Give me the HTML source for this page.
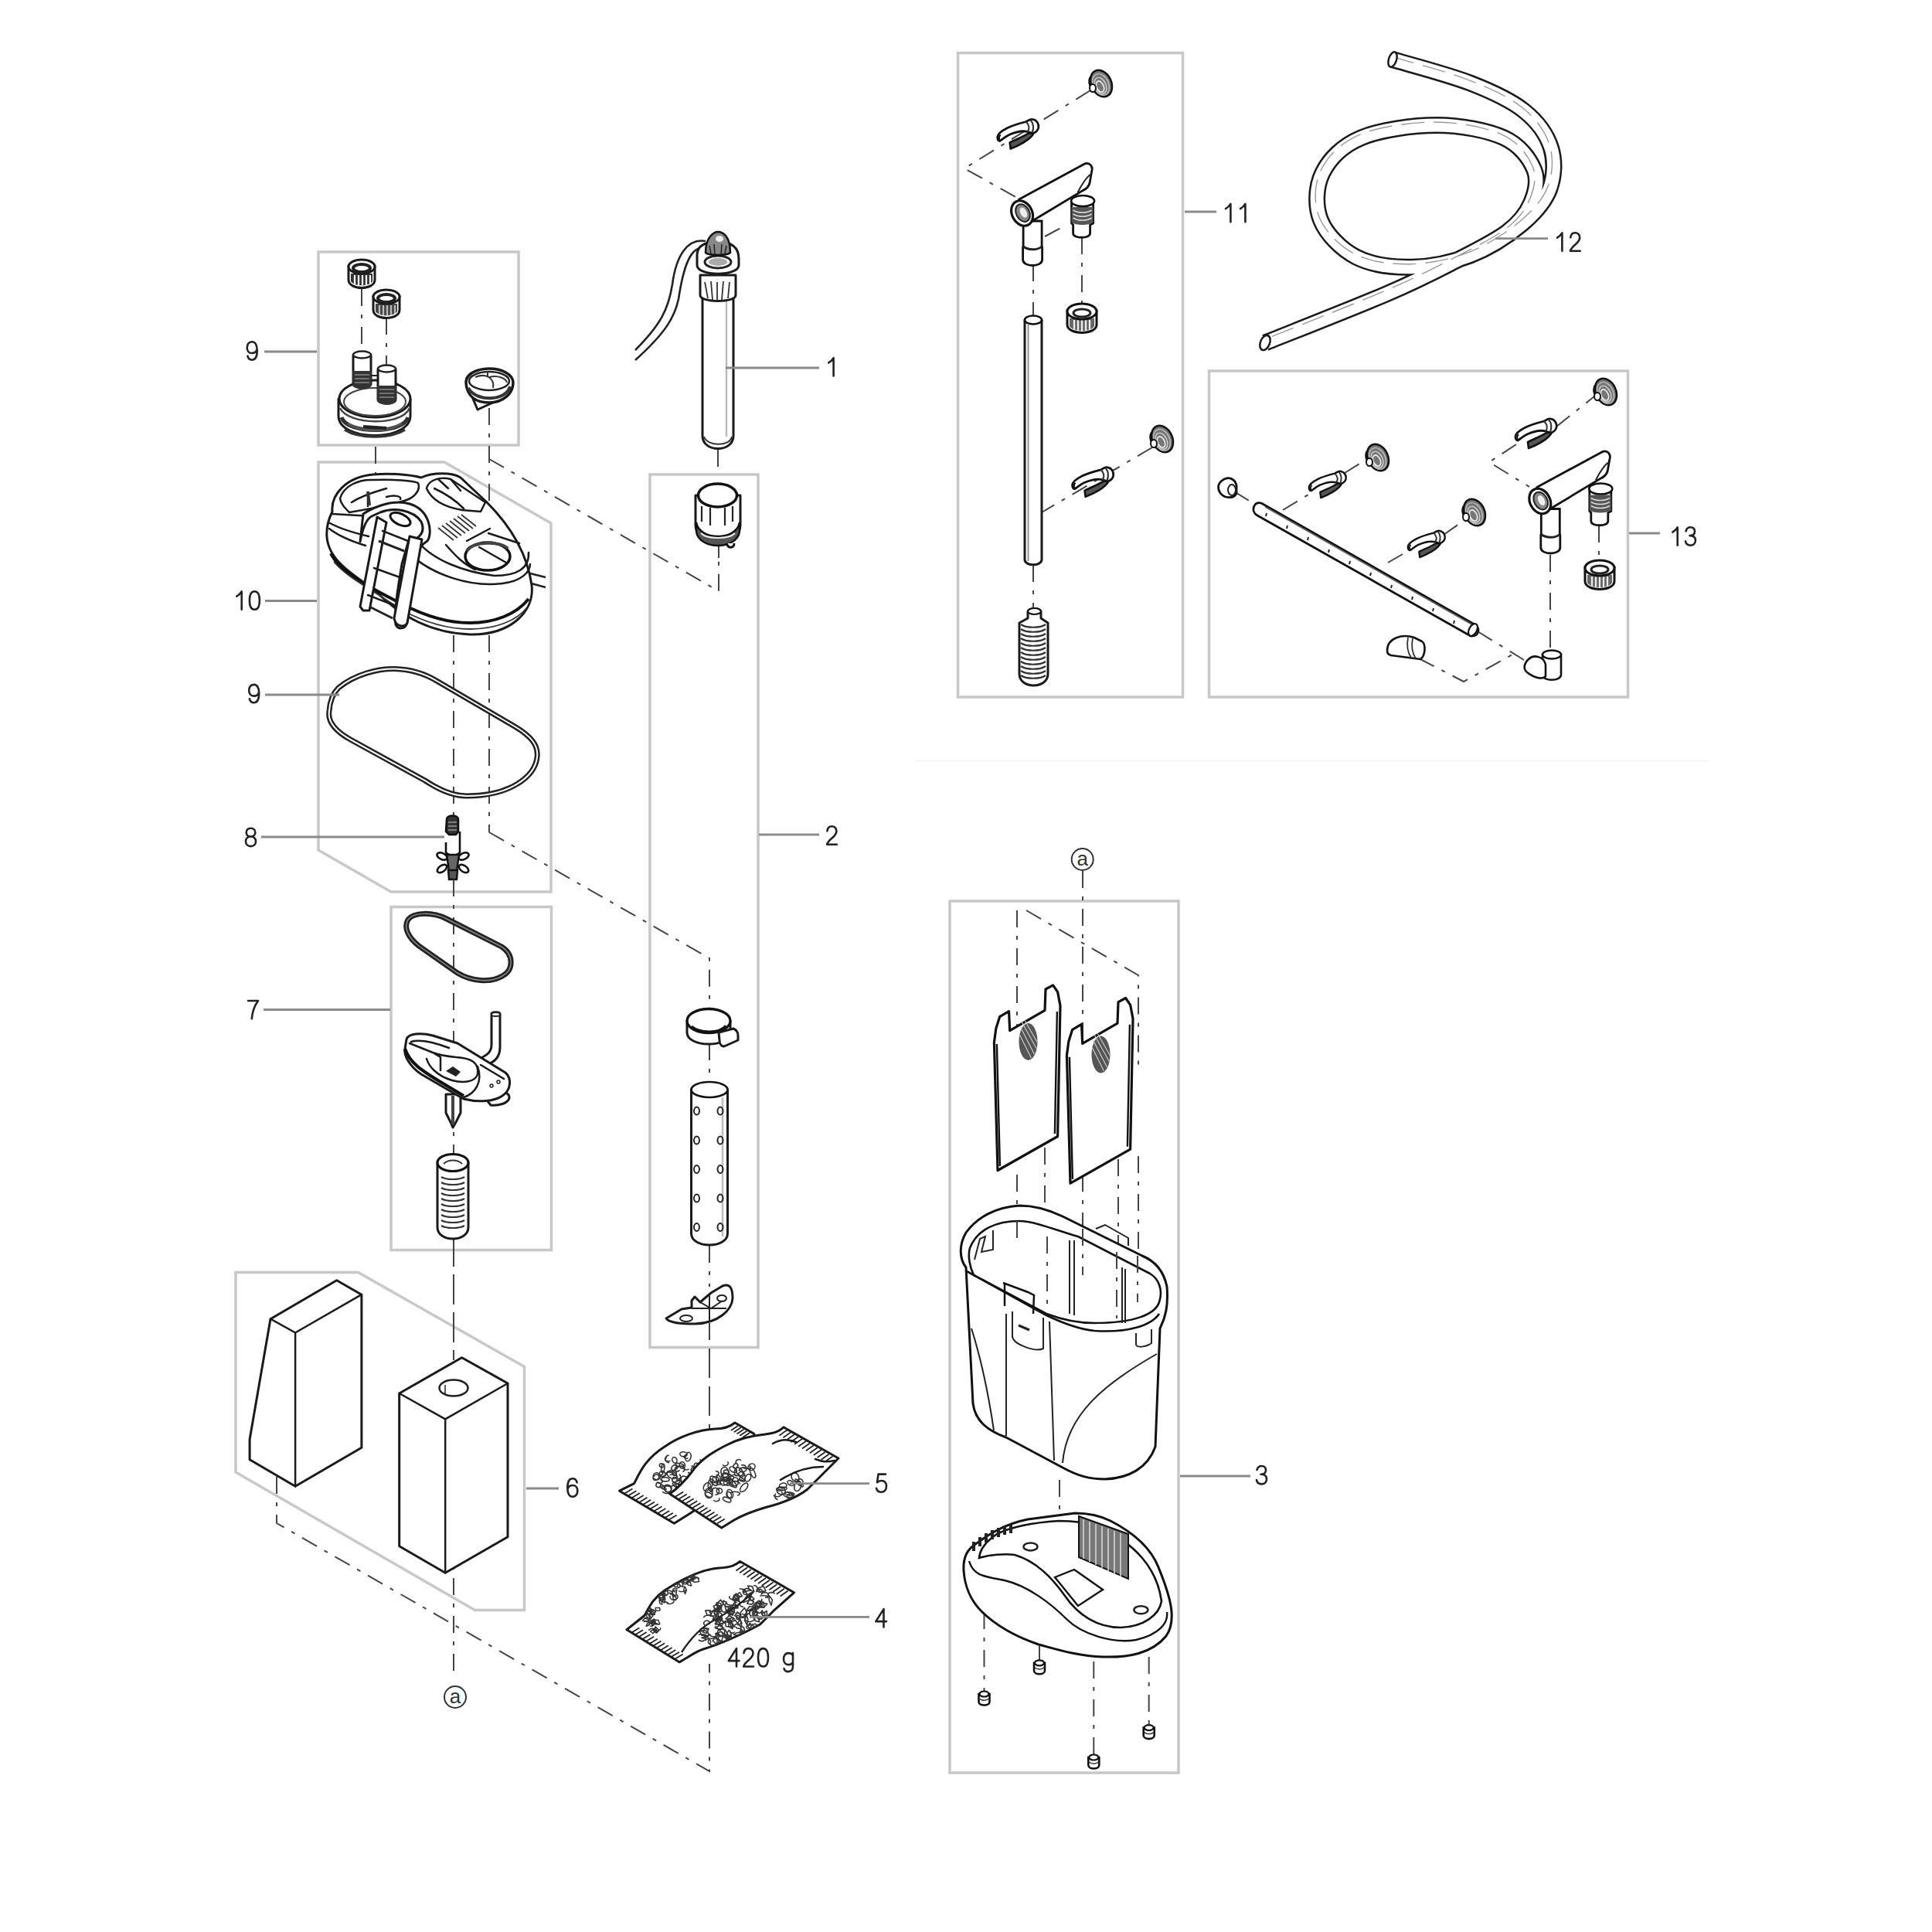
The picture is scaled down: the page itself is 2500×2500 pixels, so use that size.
<!DOCTYPE html>
<html><head><meta charset="utf-8">
<style>
html,body{margin:0;padding:0;background:#fff;width:2500px;height:2500px;overflow:hidden}
svg{display:block}
.bx{fill:none;stroke:#c8c8c8;stroke-width:3.5}
.ld{stroke:#8a8a8a;stroke-width:2.8;fill:none}
.lb{font-family:"Liberation Sans",sans-serif;font-size:32px;fill:#333}
.dd{stroke:#444;stroke-width:2;fill:none;stroke-dasharray:22 11 5 11}
.pt{fill:#fff;stroke:#1a1a1a;stroke-width:3;stroke-linejoin:round;stroke-linecap:round}
.pn{fill:none;stroke:#1a1a1a;stroke-width:2.5;stroke-linejoin:round;stroke-linecap:round}
</style></head>
<body>
<svg width="2500" height="2500" viewBox="0 0 2500 2500">

<defs>
<clipPath id="clip4"><path d="M811,2108.7 L879,2150.8 C890,2145 900,2137 910,2134 C940,2125 965,2112 983.5,2102 L1000.7,2084.7 L1027.5,2060.8 L957.6,2020.5 C952,2025 947,2028 930,2029 C905,2031 880,2045 860,2058 C845,2068 840,2080 834,2090.5 Z"/></clipPath>
<g id="cup">
<ellipse cx="0" cy="0" rx="13" ry="18" transform="rotate(-25)" fill="#777" stroke="#111" stroke-width="2.5"/>
<ellipse cx="-1" cy="1" rx="10" ry="14.5" transform="rotate(-25)" fill="none" stroke="#ccc" stroke-width="1.2"/>
<ellipse cx="-2" cy="2" rx="7" ry="11" transform="rotate(-25)" fill="none" stroke="#ddd" stroke-width="1.2"/>
<ellipse cx="-3" cy="3" rx="4.5" ry="7.5" transform="rotate(-25)" fill="none" stroke="#eee" stroke-width="1.6"/>
<path d="M-14,-8 C-16,-4 -16,2 -12,6" fill="none" stroke="#111" stroke-width="3"/>
<ellipse cx="-11" cy="6" rx="4" ry="5" fill="#fff" stroke="#111" stroke-width="2"/>
</g>
<g id="clip">
<path d="M17,31 L18,39 C28,35 38,30 44,24 C47,21 48,19 47,19 L41,19 C35,23 25,27 17,31 Z" fill="#555" stroke="#111" stroke-width="2.6" stroke-linejoin="round"/>
<path d="M1,24 C1,20 6,16 14,12 C22,8 30,6 38,4 C41,2 44,0 47,1 C52,2 55,7 54,12 C53,16 50,18 47,19 L40,17 C33,15 25,17 16,21 C10,24 6,28 4,29 C2,29 1,27 1,24 Z" fill="#fff" stroke="#111" stroke-width="2.8" stroke-linejoin="round"/>
<path d="M38,4 C42,8 43,13 40,17 M44,2 C48,6 48,13 46,18" fill="none" stroke="#333" stroke-width="2.2"/>
<path d="M5,21 C3,23 3,26 4,28" fill="none" stroke="#111" stroke-width="2"/>
</g>
<g id="nut">
<path d="M-19,-6 V12 C-19,26 19,26 19,12 V-6 Z" fill="#fff" stroke="#111" stroke-width="3"/>
<path d="M-16,4 V14 C-12,22 12,22 16,14 V4 Z" fill="#666"/>
<path d="M-10,6 V19 M-5,6 V20 M0,6 V20 M5,6 V20 M10,6 V19" stroke="#eee" stroke-width="2.2"/>
<ellipse cx="0" cy="-5" rx="19" ry="10" fill="#fff" stroke="#111" stroke-width="3"/>
<ellipse cx="0" cy="-3" rx="11" ry="5" fill="none" stroke="#222" stroke-width="3"/>
</g>
<g id="elbow">
<!-- right leg -->
<path d="M64,-16 V13 L66,15 V26 C66,33 88,33 88,26 V15 L92,13 V-16 Z" fill="#fff" stroke="#111" stroke-width="2.8"/>
<path d="M64,-8 V12 C70,16 86,16 92,12 V-8 Z" fill="#555"/>
<path d="M66,-4 C72,0 84,0 90,-4 M66,1 C72,5 84,5 90,1 M66,6 C72,10 84,10 90,6" fill="none" stroke="#ddd" stroke-width="1.6"/>
<ellipse cx="78.5" cy="-16" rx="15" ry="7" fill="#fff" stroke="#111" stroke-width="2.6"/>
<!-- left leg -->
<path d="M1.5,10 V42 L1,44 V60 C1,70 26,70 26,60 V44 L25.5,42 V10 Z" fill="#fff" stroke="#111" stroke-width="2.8"/>
<path d="M1.5,43 C8,48 20,48 25.5,43" fill="none" stroke="#222" stroke-width="3"/>
<!-- pipe -->
<path d="M-4,-18 L80,-63.6 C88,-67 92,-60 90,-54 L87.4,-39 C86,-34 82,-31 78.4,-29.4 L13,10 Z" fill="#fff" stroke="#111" stroke-width="2.8" stroke-linejoin="round"/>
<path d="M72,-27 C76,-35 82,-45 88,-50" fill="none" stroke="#222" stroke-width="2"/>
<ellipse cx="0" cy="0" rx="13" ry="17" transform="rotate(-28)" fill="#fff" stroke="#111" stroke-width="3.2"/>
<ellipse cx="1" cy="0" rx="8.5" ry="12" transform="rotate(-28)" fill="#888" stroke="#222" stroke-width="2"/>
<ellipse cx="2" cy="0" rx="4" ry="7" transform="rotate(-28)" fill="#eee"/>
</g>
</defs>
<line x1="1183" y1="984.6" x2="2210" y2="984.6" stroke="#f5f5f5" stroke-width="2"/>
<!-- BOXES -->
<g id="boxes">
<rect class="bx" x="412" y="326" width="259" height="250"/>
<polygon class="bx" points="412,598 575,598 713,677 713,1154 506,1154 412,1100"/>
<rect class="bx" x="506" y="1173.5" width="207.5" height="444"/>
<polygon class="bx" points="305,1646.5 463.5,1646.5 678.5,1768.5 678.5,2083.5 614.5,2083.5 305,1905"/>
<rect class="bx" x="841" y="614" width="140" height="1129.5"/>
<rect class="bx" x="1239.5" y="68.5" width="291" height="833.5"/>
<rect class="bx" x="1564.5" y="480" width="542" height="422"/>
<rect class="bx" x="1229" y="1166" width="296" height="1128"/>
</g>

<!-- PART A: box 9 contents -->
<g id="partA">
<!-- dash lines -->
<path class="dd" d="M468,374 V456"/>
<path class="dd" d="M500,411 V474"/>
<!-- nut 1 -->
<g transform="translate(468,354)">
<path class="pt" d="M-17,-10 V8 C-17,22 17,22 17,8 V-10 Z" fill="#fff"/>
<path d="M-14,0 V10 C-10,17 10,17 14,10 V0 Z" fill="#333"/>
<path d="M-9,2 V14 M-4,2 V15 M1,2 V15 M6,2 V15 M11,2 V13" stroke="#fff" stroke-width="2.2"/>
<ellipse class="pt" cx="0" cy="-9" rx="17" ry="9" stroke-width="3.5"/>
<ellipse cx="0" cy="-7" rx="11" ry="5" fill="none" stroke="#222" stroke-width="4"/>
</g>
<!-- nut 2 -->
<g transform="translate(500,393)">
<path class="pt" d="M-17,-10 V8 C-17,22 17,22 17,8 V-10 Z" fill="#fff"/>
<path d="M-14,0 V10 C-10,17 10,17 14,10 V0 Z" fill="#444"/>
<path d="M-9,2 V14 M-4,2 V15 M1,2 V15 M6,2 V15 M11,2 V13" stroke="#bbb" stroke-width="2.2"/>
<ellipse class="pt" cx="0" cy="-9" rx="17" ry="9" stroke-width="3.5"/>
<ellipse cx="0" cy="-7" rx="11" ry="5" fill="none" stroke="#222" stroke-width="4"/>
</g>
<!-- lid -->
<g>
<path class="pt" d="M438,516 V538 C438,572 531,572 531,538 V516 Z"/>
<path d="M442,540 C448,562 522,562 528,540" fill="none" stroke="#333" stroke-width="5"/>
<path d="M450,548 C470,560 500,560 520,548" fill="none" stroke="#555" stroke-width="3"/>
<path d="M440,528 C450,550 520,552 530,528" fill="none" stroke="#444" stroke-width="2.5"/>
<path d="M446,556 C465,568 505,568 524,556" fill="none" stroke="#333" stroke-width="3.5"/>
<path d="M470,552 L500,554" stroke="#222" stroke-width="4"/>
<ellipse class="pt" cx="485" cy="516" rx="46" ry="24"/>
<ellipse cx="485" cy="520" rx="40" ry="18" fill="none" stroke="#444" stroke-width="2"/>
<path class="pt" d="M457,460 V497 C457,503 480,503 480,497 V460 Z"/>
<path d="M456,480 V497 C458,506 479,506 481,497 V480 Z" fill="#333"/>
<path d="M459,485 H478 M459,490 H478 M459,495 H478" stroke="#888" stroke-width="1.5"/>
<ellipse cx="468.5" cy="459" rx="11.5" ry="4.5" fill="#fff" stroke="#222" stroke-width="2.5"/>
<path class="pt" d="M489,478 V517 C489,524 512,524 512,517 V478 Z"/>
<path d="M488,499 V517 C490,526 511,526 513,517 V499 Z" fill="#333"/>
<path d="M491,504 H510 M491,509 H510 M491,514 H510" stroke="#888" stroke-width="1.5"/>
<ellipse cx="500.5" cy="477" rx="11.5" ry="4.5" fill="#fff" stroke="#222" stroke-width="2.5"/>
<path d="M480,486 H489" stroke="#222" stroke-width="2"/>
</g>
<!-- small cap -->
<g>
<path class="pt" d="M612,516 L618,530 L640,520 Z"/>
<path d="M603,495 C603,480 625,477 633,477 C650,477 664,485 664,495 C664,510 650,521 633,521 C615,521 604,512 603,495 Z" fill="#fff" stroke="#1a1a1a" stroke-width="3.5"/>
<path d="M606,502 C615,520 655,520 660,500" fill="none" stroke="#333" stroke-width="4"/>
<ellipse cx="633" cy="493" rx="26" ry="12" fill="none" stroke="#222" stroke-width="2.5"/>
<path d="M615,488 C630,482 640,490 638,502 M631,480 V488 M633,488 C645,485 655,490 656,495" fill="none" stroke="#333" stroke-width="2"/>
</g>
</g>

<!-- PART B: pump head 10 -->
<g id="partB">
<path class="dd" d="M486,578 V640"/>
<path class="dd" d="M633,528 V720"/>
<path class="dd" d="M633,594 L930,765 L930,690"/>
<!-- cable stub -->
<path d="M682,741 L706,747 M684,754 L706,760" stroke="#222" stroke-width="2.5"/>
<!-- silhouette -->
<path class="pt" stroke-width="3.2" d="M430,662 C428,640 448,617 483,614 C505,612 530,614 545,618 C560,611 585,611 596,618 L630,650 C660,680 682,715 688,757 C692,792 660,822 608,821 C560,819 520,800 483,762 C450,740 425,722 423,695 C422,683 425,672 430,662 Z"/>
<!-- gasket band bottom -->
<path d="M428,716 C440,740 470,756 521,782 C550,797 580,806 608,806 C640,806 668,795 684,775" fill="none" stroke="#111" stroke-width="4"/>
<path d="M432,727 C450,748 480,762 521,790 C555,808 585,814 608,814 C640,814 668,804 682,786" fill="none" stroke="#333" stroke-width="1.8"/>
<!-- upper body top face line -->
<path class="pn" d="M430,665 L481,668"/>
<path class="pn" d="M427,677 C440,684 460,690 477,694"/>
<path class="pn" d="M426,684 C440,695 460,702 473,706"/>
<path class="pn" d="M540,700 C560,725 600,740 640,745 C670,745 685,735 684,715"/>
<path class="pn" d="M528,715 C560,745 610,760 650,755 C675,752 686,740 686,730"/>
<!-- left cup -->
<path class="pn" stroke-width="3" d="M440,645 C445,628 465,620 483,621 C510,620 535,622 541,625 C545,635 535,645 523,648 C500,655 470,660 452,663 C446,657 441,652 440,645 Z"/>
<path class="pn" d="M455,650 C470,640 490,635 500,632 M476,637 V655 M500,643 C510,640 520,642 518,646"/>
<path d="M476,636 L478,654" stroke="#333" stroke-width="4"/>
<!-- latch top right -->
<path class="pn" stroke-width="3" d="M552,632 C555,620 570,617 583,620 L628,650 L622,662 L598,660 C580,657 560,650 552,632 Z"/>
<path class="pn" d="M562,632 C575,638 590,648 600,658 M567,620 L580,632 M583,620 L596,635"/>
<!-- vent slots -->
<path d="M567,683 L587,699 M572,680 L592,696 M577,677 L597,693 M582,674 L602,690 M587,671 L607,687 M592,668 L612,684 M597,666 L616,681" stroke="#333" stroke-width="1.8"/>
<path class="pn" d="M604,700 L634,684 M632,690 L672,703"/>
<path class="pn" d="M577,705 C590,720 600,730 615,737"/>
<!-- hole -->
<ellipse cx="631" cy="720" rx="29" ry="18" fill="#fff" stroke="#111" stroke-width="3.5"/>
<path d="M604,713 C610,700 650,700 657,710" fill="none" stroke="#444" stroke-width="4"/>
<path class="pn" d="M620,708 L655,728"/>
<!-- strap/handle -->
<path class="pt" stroke-width="3" d="M466,701 C470,680 475,671 481,668 L492,663 C510,656 535,660 545,675 C552,690 540,698 528,702 L520,730 C515,760 510,790 512,808 C514,815 525,815 527,805 L531,740 C535,715 545,705 553,700 C560,690 557,660 530,652 C510,646 485,655 470,665 L466,701 Z"/>
<path class="pt" stroke-width="3" d="M488,669 L466,785 L470,790 L478,790 L500,676 Z"/>
<path class="pt" stroke-width="3" d="M530,694 L510,800 C512,812 524,812 527,806 L546,698 Z"/>
<path class="pn" d="M495,687 L528,700 M484,735 L520,748 M476,770 L512,784"/>
<path d="M490,700 L523,713 M478,785 L508,800" stroke="#222" stroke-width="3"/>
<ellipse cx="518" cy="672" rx="14" ry="7" transform="rotate(25 518 672)" fill="none" stroke="#111" stroke-width="3"/>
</g>

<!-- PART B2: ring, impeller -->
<g id="partB2">
<path class="dd" d="M587,822 V1056"/>
<path class="dd" d="M633,822 V1077"/>
<path d="M438,890 C460,872 490,865 511,865.5 C530,866 550,872 565,881 L666,940 C688,953 697,965 695,980 C692,1005 660,1030 604,1030 C585,1030 565,1020 550,1010 L453.5,957 C432,945 424,932 426,920 C427,905 432,896 438,890 Z" fill="none" stroke="#222" stroke-width="7"/>
<path d="M438,890 C460,872 490,865 511,865.5 C530,866 550,872 565,881 L666,940 C688,953 697,965 695,980 C692,1005 660,1030 604,1030 C585,1030 565,1020 550,1010 L453.5,957 C432,945 424,932 426,920 C427,905 432,896 438,890 Z" fill="none" stroke="#fff" stroke-width="2"/>
<!-- impeller -->
<path d="M578,1060 C578,1054 593,1054 593,1060 V1076 L590,1080 H581 L577,1076 Z" fill="#333" stroke="#111" stroke-width="2.5"/>
<path d="M580,1064 H591 M580,1069 H591 M580,1074 H591" stroke="#999" stroke-width="1.5"/>
<path d="M577,1090 V1103 C580,1108 592,1108 595,1103 V1076" fill="none" stroke="#111" stroke-width="2.6"/>
<g fill="#fff" stroke="#111" stroke-width="2.6">
<ellipse cx="572" cy="1108" rx="7" ry="4" transform="rotate(25 572 1108)"/>
<ellipse cx="600" cy="1108" rx="7" ry="4" transform="rotate(-25 600 1108)"/>
<ellipse cx="572" cy="1124" rx="7" ry="4" transform="rotate(-35 572 1124)"/>
<ellipse cx="600" cy="1124" rx="7" ry="4" transform="rotate(35 600 1124)"/>
</g>
<path d="M578,1106 L581,1127 H591 L594,1106 Z" fill="#666" stroke="#111" stroke-width="2.4"/>
<path d="M580,1126 H592 L591,1138 H581 Z" fill="#555" stroke="#111" stroke-width="2.4"/>
</g>
<!-- PART C: heater -->
<g id="partC">
<path class="dd" d="M929,582 V615"/>
<path d="M913,312 C890,308 875,330 870,368 C865,400 855,420 822,453" fill="none" stroke="#222" stroke-width="2.6"/>
<path d="M909,321 C895,320 885,340 878,387 C873,410 862,430 822,466" fill="none" stroke="#222" stroke-width="2.6"/>
<path class="pt" stroke-width="2.5" d="M909,386 V564 C909,586 949,586 949,564 V386 Z"/>
<path d="M940,390 V565" stroke="#bbb" stroke-width="2.5"/>
<path d="M911,565 C915,578 945,578 947,565" fill="none" stroke="#333" stroke-width="2"/>
<path class="pt" d="M906,356 V382 C906,392 952,392 952,382 V356 Z"/>
<path d="M912,365 L916,386 M920,364 L922,388 M928,365 L928,389 M936,364 L934,388 M944,365 L942,386" stroke="#333" stroke-width="1.8"/>
<path class="pt" d="M902,330 C902,318 912,313 929,313 C946,313 956,320 956,335 V343 C956,358 902,358 902,343 Z"/>
<ellipse cx="929" cy="339" rx="17" ry="8" fill="#fff" stroke="#222" stroke-width="3"/>
<ellipse cx="929" cy="339" rx="12" ry="5" fill="#aaa"/>
<path d="M913,327 C913,305 925,300 929,300 C935,300 945,305 945,327 C940,331 918,331 913,327 Z" fill="#888" stroke="#111" stroke-width="2.5"/><path d="M918,318 L920,328 M924,316 L925,329 M934,316 L933,329 M940,318 L938,328" stroke="#222" stroke-width="1.5"/>
<ellipse cx="931" cy="309" rx="5" ry="4" fill="#eee"/>
</g>

<!-- PART D: box 2 contents -->
<g id="partD">
<path class="dd" d="M930,700 V730"/>
<path class="dd" d="M633,1077 L918,1240 V1305"/>
<path class="dd" d="M918,1350 V1400"/>
<path class="dd" d="M918,1612 V1665"/>
<path class="dd" d="M918,1712 V1860"/>
<!-- holder nut -->
<g>
<path class="pt" d="M900,641 V680 C900,705 958,705 958,680 V641 Z"/>
<path d="M901,676 C905,700 953,700 957,676 L957,688 C953,712 905,712 901,688 Z" fill="#555" stroke="#111" stroke-width="2.5"/>
<path d="M907,690 C915,698 943,698 951,690" stroke="#eee" stroke-width="2" fill="none"/>
<path d="M908,655 V675 M919,657 V680 M938,657 V680 M948,655 V675" stroke="#222" stroke-width="2.2"/>
<ellipse cx="928.5" cy="641" rx="25" ry="15" fill="#fff" stroke="#111" stroke-width="3.5"/>
<path d="M940,703 C942,710 950,710 950,703" stroke="#111" stroke-width="3" fill="#fff"/>
</g>
<!-- clip ring -->
<g>
<path class="pt" d="M889,1321 V1336 C889,1356 945,1356 945,1336 V1321 Z"/>
<ellipse cx="917" cy="1321" rx="28" ry="15.5" fill="#fff" stroke="#111" stroke-width="3.3"/>
<path d="M895,1328 C905,1336 930,1338 939,1327" fill="none" stroke="#111" stroke-width="2.5"/>
<path class="pt" d="M930,1336 L949,1331 C954,1333 955,1336 955,1340 V1346 L937,1354 C933,1354 931,1350 931,1346 Z"/>
</g>
<!-- perforated tube -->
<g>
<path class="pt" stroke-width="2.6" d="M894.5,1410 V1596 C894.5,1616 941.5,1616 941.5,1596 V1410 Z"/>
<ellipse cx="918" cy="1410" rx="23.5" ry="10" fill="#fff" stroke="#111" stroke-width="2.6"/>
<path d="M935,1420 V1600" stroke="#bbb" stroke-width="2.5"/>
<g fill="none" stroke="#222" stroke-width="2">
<ellipse cx="901.5" cy="1437.5" rx="3.5" ry="5"/><ellipse cx="932" cy="1437.5" rx="3.5" ry="5"/>
<ellipse cx="901.5" cy="1475.5" rx="3.5" ry="5"/><ellipse cx="932" cy="1475.5" rx="3.5" ry="5"/>
<ellipse cx="901.5" cy="1513" rx="3.5" ry="5"/><ellipse cx="932" cy="1513" rx="3.5" ry="5"/>
<ellipse cx="901.5" cy="1550.5" rx="3.5" ry="5"/><ellipse cx="932" cy="1550.5" rx="3.5" ry="5"/>
<ellipse cx="901.5" cy="1588" rx="3.5" ry="5"/><ellipse cx="932" cy="1588" rx="3.5" ry="5"/>
</g>
</g>
<!-- bracket -->
<g>
<path class="pt" stroke-width="2.6" d="M862,1706 L882,1694 L895,1692 V1683 L899,1678 L906,1685 L920,1673 L935,1664 C945,1660 948,1668 948,1680 C947,1695 930,1712 900,1713 C880,1713 866,1712 862,1706 Z"/>
<path d="M895,1693 H940 M918,1675 V1710 M906,1685 L920,1693 L935,1683" fill="none" stroke="#222" stroke-width="2"/>
<ellipse cx="888" cy="1706" rx="8" ry="4" fill="none" stroke="#222" stroke-width="2"/>
<ellipse cx="934" cy="1680" rx="6" ry="4" fill="none" stroke="#222" stroke-width="2"/>
</g>
</g>

<!-- PART E: box 7 contents -->
<g id="partE">
<path class="dd" d="M587,1138 V1495"/>
<path class="dd" d="M587,1600 V1760"/>
<!-- small ring -->
<path d="M528,1190 C535,1180 560,1180 578,1189 L649,1225 C665,1235 665,1255 650,1263 C635,1272 610,1270 592,1259 L542,1224 C528,1213 522,1200 528,1190 Z" fill="none" stroke="#222" stroke-width="7"/>
<path d="M528,1190 C535,1180 560,1180 578,1189 L649,1225 C665,1235 665,1255 650,1263 C635,1272 610,1270 592,1259 L542,1224 C528,1213 522,1200 528,1190 Z" fill="none" stroke="#888" stroke-width="1.5"/>
<!-- impeller cover -->
<path class="pt" d="M636,1312 C636,1309 647,1309 647,1312 V1355 C647,1368 640,1375 628,1378 L620,1370 C632,1365 636,1360 636,1352 Z"/>
<ellipse cx="641.5" cy="1312.5" rx="5.5" ry="2.5" fill="#fff" stroke="#222" stroke-width="2"/>
<path class="pt" d="M577,1416 V1440 L583,1452 L586,1459 L590,1452 L596,1440 V1416 Z"/>
<path d="M586,1418 V1455" stroke="#444" stroke-width="4"/>
<path class="pt" d="M627,1420 C640,1412 660,1410 659,1421 C657,1428 645,1431 635,1430 Z"/>
<path class="pt" d="M526,1345 C528,1337 545,1336 560,1340 L592,1350 L654,1388 C662,1395 662,1410 650,1418 C640,1425 620,1427 600,1422 L545,1390 C530,1380 522,1365 524,1357 Z"/>
<path d="M524,1357 C530,1375 545,1385 570,1400 L600,1418" fill="none" stroke="#111" stroke-width="4"/>
<path class="pn" d="M530,1350 L560,1362 L570,1368 V1385 M532,1348 C545,1344 565,1350 581,1356 M560,1362 C570,1366 580,1367 590,1368 C610,1369 620,1375 618,1390 C615,1400 600,1402 585,1398 C565,1392 555,1380 552,1370"/>
<path class="pn" d="M618,1380 C625,1400 615,1415 600,1420 M622,1378 L652,1396"/>
<path d="M577,1386 L586,1380 L596,1387 L590,1393 Z" fill="#222"/>
<circle cx="636" cy="1405" r="2" fill="none" stroke="#222" stroke-width="1.5"/><circle cx="645" cy="1400" r="2" fill="none" stroke="#222" stroke-width="1.5"/>
<!-- strainer -->
<path class="pt" d="M566,1505 V1588 C566,1608 606,1608 606,1588 V1505 Z"/>
<path d="M571,1523 C578,1527 594,1527 601,1523" fill="none" stroke="#333" stroke-width="2.2"/><path d="M571,1530 C578,1534 594,1534 601,1530" fill="none" stroke="#333" stroke-width="2.2"/><path d="M571,1537 C578,1541 594,1541 601,1537" fill="none" stroke="#333" stroke-width="2.2"/><path d="M571,1544 C578,1548 594,1548 601,1544" fill="none" stroke="#333" stroke-width="2.2"/><path d="M571,1551 C578,1555 594,1555 601,1551" fill="none" stroke="#333" stroke-width="2.2"/><path d="M571,1558 C578,1562 594,1562 601,1558" fill="none" stroke="#333" stroke-width="2.2"/><path d="M571,1565 C578,1569 594,1569 601,1565" fill="none" stroke="#333" stroke-width="2.2"/><path d="M571,1572 C578,1576 594,1576 601,1572" fill="none" stroke="#333" stroke-width="2.2"/><path d="M571,1579 C578,1583 594,1583 601,1579" fill="none" stroke="#333" stroke-width="2.2"/><path d="M571,1586 C578,1590 594,1590 601,1586" fill="none" stroke="#333" stroke-width="2.2"/>
<ellipse cx="586" cy="1504.5" rx="20" ry="11" fill="#fff" stroke="#111" stroke-width="3.2"/>
<path d="M574,1506 C580,1500 592,1500 598,1506" fill="none" stroke="#333" stroke-width="2"/>
</g>

<!-- PART F: foam blocks -->
<g id="partF">
<path class="dd" d="M587,1617 V1756"/>
<path class="dd" d="M587,1797 V2170"/>
<path class="dd" d="M358,1911 V1971 L918,2292 V2153"/>
<path class="pt" stroke-width="2.8" d="M350,1706.7 L435.7,1656.7 L467.9,1675.2 V1873.3 L382.1,1923.3 L323.1,1888.8 V1862.6 Z"/>
<path class="pn" stroke-width="1.5" d="M350,1706.7 L382.1,1724.5 L467.9,1675.2 M382.1,1724.5 V1923.3"/>
<path class="pt" stroke-width="2.8" d="M597.6,1756.7 L657,1790 V1988.8 L576.2,2035.2 L516.7,2000.7 V1803 Z"/>
<path class="pn" stroke-width="1.5" d="M516.7,1803 L576.2,1836.4 L657,1790 M576.2,1836.4 V2035.2"/>
<ellipse cx="587" cy="1796" rx="18.5" ry="10.5" fill="#fff" stroke="#222" stroke-width="2.5"/>
<path d="M576,1792 V1803" stroke="#222" stroke-width="1.5"/>
</g>

<circle cx="589" cy="2196" r="14" fill="#fff" stroke="#333" stroke-width="2"/><text x="589" y="2204" text-anchor="middle" font-family="Liberation Sans, sans-serif" font-size="26" fill="#333">a</text>
<!-- PART G: bags -->
<g id="partG">
<path class="dd" d="M918,1745 V1845"/>
<path class="pt" stroke-width="3" d="M801.5,1929.2 L872.4,1971.3 L893.5,1958 C910,1945 940,1935 966,1920 L975.8,1855.4 L951,1841 C945,1846 935,1849 925,1849 C905,1850 880,1858 860,1872 C835,1888 828,1905 820.6,1919.6 Z"/>
<path d="M808.4,1932.4 l10.0,-6.0 M813.2,1935.3 l10.0,-6.0 M817.9,1938.1 l10.0,-6.0 M822.7,1941.0 l10.0,-6.0 M827.5,1943.8 l10.0,-6.0 M832.2,1946.7 l10.0,-6.0 M837.0,1949.5 l10.0,-6.0 M841.8,1952.3 l10.0,-6.0 M846.5,1955.2 l10.0,-6.0 M851.3,1958.0 l10.0,-6.0 M856.1,1960.9 l10.0,-6.0 M860.8,1963.7 l10.0,-6.0 M865.6,1966.6 l10.0,-6.0" stroke="#222" stroke-width="1.8"/>
<path d="M954.9,1845.1 l-9.0,6.0 M958.7,1847.3 l-9.0,6.0 M962.5,1849.5 l-9.0,6.0 M966.3,1851.7 l-9.0,6.0 M970.1,1853.9 l-9.0,6.0" stroke="#222" stroke-width="1.8"/>
<g fill="none" stroke="#333" stroke-width="1.6"><ellipse cx="857.8" cy="1900.0" rx="5.6" ry="2.0" transform="rotate(96 857.8 1900.0)"/><ellipse cx="852.0" cy="1921.5" rx="3.1" ry="3.1" transform="rotate(13 852.0 1921.5)"/><path d="M875.4,1917.3 A3.5,2.5 0 0 1 881.8,1919.3"/><path d="M890.5,1886.9 A3.6,2.2 0 1 1 888.5,1882.8"/><ellipse cx="879.4" cy="1895.7" rx="5.2" ry="2.0" transform="rotate(11 879.4 1895.7)"/><ellipse cx="882.8" cy="1896.0" rx="4.3" ry="3.6" transform="rotate(82 882.8 1896.0)"/><path d="M894.5,1897.2 A4.0,3.6 0 0 1 897.1,1903.8"/><path d="M876.9,1913.1 A3.6,3.3 0 1 1 875.3,1919.5"/><ellipse cx="890.4" cy="1885.1" rx="5.8" ry="3.6" transform="rotate(104 890.4 1885.1)"/><path d="M878.8,1907.7 A3.2,4.0 0 0 1 877.3,1915.3"/><ellipse cx="872.9" cy="1914.7" rx="3.1" ry="3.2" transform="rotate(30 872.9 1914.7)"/><ellipse cx="849.8" cy="1910.3" rx="4.6" ry="4.5" transform="rotate(15 849.8 1910.3)"/><ellipse cx="886.4" cy="1915.7" rx="6.3" ry="4.5" transform="rotate(50 886.4 1915.7)"/><ellipse cx="876.4" cy="1922.8" rx="6.8" ry="2.3" transform="rotate(32 876.4 1922.8)"/><ellipse cx="860.7" cy="1914.3" rx="5.4" ry="2.6" transform="rotate(1 860.7 1914.3)"/><path d="M866.6,1908.5 A6.8,3.9 0 0 1 876.4,1912.4"/><ellipse cx="902.4" cy="1899.5" rx="6.5" ry="4.3" transform="rotate(71 902.4 1899.5)"/><ellipse cx="857.3" cy="1924.0" rx="3.2" ry="2.0" transform="rotate(38 857.3 1924.0)"/><ellipse cx="856.3" cy="1896.2" rx="3.0" ry="2.3" transform="rotate(18 856.3 1896.2)"/><ellipse cx="872.9" cy="1889.3" rx="4.0" ry="2.9" transform="rotate(66 872.9 1889.3)"/><ellipse cx="872.8" cy="1905.7" rx="3.3" ry="2.1" transform="rotate(62 872.8 1905.7)"/><ellipse cx="884.5" cy="1881.8" rx="3.1" ry="4.7" transform="rotate(95 884.5 1881.8)"/><path d="M866.1,1892.7 A5.1,4.8 0 0 1 865.6,1883.1"/><ellipse cx="863.8" cy="1926.1" rx="5.1" ry="4.2" transform="rotate(59 863.8 1926.1)"/><path d="M896.7,1905.3 A6.3,4.1 0 0 1 898.0,1898.3"/><path d="M873.3,1919.3 A6.8,3.2 0 0 1 860.9,1921.7"/><path d="M856.1,1904.3 A3.8,2.4 0 1 1 851.9,1908.3"/><path d="M889.9,1905.4 A3.3,3.8 0 1 1 889.7,1913.0"/><ellipse cx="864.8" cy="1926.3" rx="4.3" ry="4.3" transform="rotate(175 864.8 1926.3)"/><ellipse cx="880.1" cy="1923.3" rx="5.9" ry="2.3" transform="rotate(23 880.1 1923.3)"/><path d="M868.7,1931.5 A6.9,3.8 0 0 1 857.3,1929.8"/><path d="M905.5,1888.4 A5.1,4.7 0 0 1 903.8,1897.3"/><ellipse cx="857.2" cy="1907.3" rx="4.0" ry="3.6" transform="rotate(47 857.2 1907.3)"/><path d="M861.0,1909.0 A5.3,4.6 0 1 1 871.6,1909.9"/><path d="M867.4,1890.5 A4.8,2.4 0 1 1 863.1,1886.2"/><path d="M891.5,1900.7 A4.3,3.4 0 1 1 885.5,1895.9"/><path d="M861.9,1905.2 A6.1,3.4 0 0 1 851.6,1908.8"/><path d="M876.0,1901.6 A5.0,3.9 0 1 1 883.4,1904.5"/><path d="M897.7,1907.8 A6.8,2.6 0 0 1 895.7,1912.6"/><path d="M854.5,1914.5 A3.3,2.5 0 1 1 850.7,1917.6"/><path d="M862.9,1927.0 A5.6,2.2 0 1 1 866.7,1923.6"/><ellipse cx="869.4" cy="1908.3" rx="7.0" ry="4.4" transform="rotate(29 869.4 1908.3)"/><ellipse cx="872.1" cy="1899.2" rx="3.8" ry="2.8" transform="rotate(130 872.1 1899.2)"/><path d="M879.3,1902.2 A3.1,2.8 0 1 1 876.9,1898.3"/><ellipse cx="848.9" cy="1911.8" rx="3.2" ry="4.2" transform="rotate(49 848.9 1911.8)"/></g>
<path class="pt" stroke-width="3" d="M866.6,1933 L933.7,1977 L949,1967.5 C965,1958 985,1952 1000,1948 C1020,1942 1035,1935 1045,1927 L1085,1887 L1014,1846.8 C1008,1852 1004,1854 990,1856 C970,1858 955,1862 940,1870 C920,1880 905,1890 895,1905 C885,1918 878,1925 866.6,1933 Z"/>
<path d="M874.2,1936.5 l10.0,-6.0 M878.7,1939.4 l10.0,-6.0 M883.2,1942.3 l10.0,-6.0 M887.6,1945.2 l10.0,-6.0 M892.1,1948.2 l10.0,-6.0 M896.5,1951.1 l10.0,-6.0 M901.0,1954.0 l10.0,-6.0 M905.5,1956.9 l10.0,-6.0 M909.9,1959.8 l10.0,-6.0 M914.4,1962.8 l10.0,-6.0 M918.8,1965.7 l10.0,-6.0 M923.3,1968.6 l10.0,-6.0 M927.8,1971.5 l10.0,-6.0" stroke="#222" stroke-width="1.8"/>
<path d="M1018.5,1850.4 l-10.0,7.0 M1023.4,1853.3 l-10.0,7.0 M1028.3,1856.1 l-10.0,7.0 M1033.2,1859.0 l-10.0,7.0 M1038.2,1861.8 l-10.0,7.0 M1043.1,1864.7 l-10.0,7.0 M1048.0,1867.5 l-10.0,7.0 M1052.9,1870.3 l-10.0,7.0 M1057.8,1873.2 l-10.0,7.0 M1062.8,1876.0 l-10.0,7.0 M1067.7,1878.9 l-10.0,7.0 M1072.6,1881.7 l-10.0,7.0 M1077.5,1884.6 l-10.0,7.0" stroke="#222" stroke-width="1.8"/>
<g fill="none" stroke="#333" stroke-width="1.6"><path d="M945.4,1931.7 A6.3,2.6 0 1 1 954.2,1935.1"/><path d="M956.4,1907.3 A3.3,4.7 0 1 1 953.4,1900.3"/><ellipse cx="938.4" cy="1911.0" rx="5.2" ry="4.7" transform="rotate(48 938.4 1911.0)"/><ellipse cx="939.9" cy="1904.5" rx="3.4" ry="2.3" transform="rotate(9 939.9 1904.5)"/><ellipse cx="929.6" cy="1915.3" rx="6.0" ry="2.7" transform="rotate(90 929.6 1915.3)"/><ellipse cx="959.3" cy="1907.7" rx="3.8" ry="3.3" transform="rotate(168 959.3 1907.7)"/><path d="M959.1,1896.1 A5.0,4.4 0 1 1 957.1,1902.8"/><ellipse cx="944.6" cy="1933.1" rx="5.8" ry="3.8" transform="rotate(73 944.6 1933.1)"/><path d="M929.9,1938.7 A4.0,2.3 0 1 1 923.3,1941.1"/><ellipse cx="926.3" cy="1914.2" rx="4.2" ry="3.2" transform="rotate(28 926.3 1914.2)"/><ellipse cx="972.5" cy="1898.3" rx="4.0" ry="4.8" transform="rotate(56 972.5 1898.3)"/><ellipse cx="943.7" cy="1916.1" rx="3.8" ry="3.4" transform="rotate(1 943.7 1916.1)"/><ellipse cx="919.6" cy="1927.4" rx="3.2" ry="1.9" transform="rotate(55 919.6 1927.4)"/><path d="M945.9,1915.2 A6.0,3.8 0 0 1 953.6,1909.4"/><path d="M960.8,1907.1 A3.2,4.4 0 1 1 958.9,1914.5"/><path d="M921.2,1927.7 A5.0,4.4 0 1 1 925.3,1934.3"/><ellipse cx="960.1" cy="1914.8" rx="3.9" ry="1.9" transform="rotate(24 960.1 1914.8)"/><ellipse cx="951.5" cy="1917.3" rx="5.5" ry="3.9" transform="rotate(88 951.5 1917.3)"/><ellipse cx="967.8" cy="1912.3" rx="5.0" ry="3.5" transform="rotate(119 967.8 1912.3)"/><ellipse cx="951.9" cy="1896.8" rx="3.3" ry="2.6" transform="rotate(131 951.9 1896.8)"/><path d="M938.6,1907.9 A4.9,3.9 0 0 1 946.6,1910.8"/><ellipse cx="919.2" cy="1919.9" rx="6.0" ry="2.7" transform="rotate(102 919.2 1919.9)"/><ellipse cx="914.7" cy="1923.8" rx="5.7" ry="3.9" transform="rotate(122 914.7 1923.8)"/><ellipse cx="945.0" cy="1913.1" rx="4.9" ry="2.2" transform="rotate(161 945.0 1913.1)"/><ellipse cx="917.1" cy="1932.3" rx="6.3" ry="4.8" transform="rotate(81 917.1 1932.3)"/><ellipse cx="930.9" cy="1929.2" rx="3.6" ry="3.4" transform="rotate(171 930.9 1929.2)"/><path d="M956.5,1903.2 A6.5,4.0 0 0 1 965.6,1899.2"/><ellipse cx="917.1" cy="1934.1" rx="4.8" ry="2.7" transform="rotate(25 917.1 1934.1)"/><ellipse cx="943.3" cy="1934.4" rx="3.0" ry="4.1" transform="rotate(151 943.3 1934.4)"/><ellipse cx="974.1" cy="1906.0" rx="6.6" ry="2.7" transform="rotate(67 974.1 1906.0)"/><path d="M934.5,1919.7 A4.1,1.9 0 1 1 939.5,1917.5"/><path d="M928.9,1914.7 A5.0,2.4 0 1 1 920.1,1916.0"/><ellipse cx="962.7" cy="1924.8" rx="6.8" ry="3.5" transform="rotate(130 962.7 1924.8)"/><ellipse cx="956.7" cy="1904.2" rx="6.0" ry="3.8" transform="rotate(52 956.7 1904.2)"/><ellipse cx="939.5" cy="1910.5" rx="4.2" ry="4.1" transform="rotate(176 939.5 1910.5)"/><ellipse cx="948.7" cy="1901.7" rx="5.2" ry="3.0" transform="rotate(30 948.7 1901.7)"/><ellipse cx="937.8" cy="1905.0" rx="6.6" ry="4.9" transform="rotate(81 937.8 1905.0)"/><path d="M925.9,1903.8 A4.0,2.6 0 0 1 926.3,1909.0"/><ellipse cx="940.8" cy="1919.2" rx="4.5" ry="2.8" transform="rotate(11 940.8 1919.2)"/><ellipse cx="948.5" cy="1919.5" rx="6.5" ry="2.5" transform="rotate(49 948.5 1919.5)"/><ellipse cx="938.0" cy="1917.0" rx="6.8" ry="4.4" transform="rotate(157 938.0 1917.0)"/><path d="M968.8,1897.0 A5.3,1.8 0 1 1 961.0,1898.8"/><path d="M944.3,1921.8 A6.8,4.0 0 1 1 957.6,1920.6"/><ellipse cx="940.7" cy="1940.6" rx="5.6" ry="2.7" transform="rotate(23 940.7 1940.6)"/><path d="M955.0,1918.1 A3.4,2.0 0 0 1 958.6,1914.9"/><path d="M941.4,1891.3 A4.2,3.2 0 1 1 935.0,1895.5"/><ellipse cx="923.8" cy="1916.2" rx="6.8" ry="4.0" transform="rotate(55 923.8 1916.2)"/><path d="M950.0,1923.9 A4.7,2.6 0 0 1 944.9,1920.4"/><path d="M928.2,1918.4 A5.7,2.4 0 0 1 938.7,1917.1"/><path d="M952.1,1892.9 A3.9,4.2 0 0 1 959.0,1890.1"/></g>
<g fill="none" stroke="#333" stroke-width="1.6"><ellipse cx="1010.7" cy="1929.1" rx="5.7" ry="4.7" transform="rotate(26 1010.7 1929.1)"/><path d="M1011.5,1930.1 A6.6,4.5 0 0 1 1000.7,1935.1"/><ellipse cx="1023.2" cy="1919.2" rx="4.5" ry="2.8" transform="rotate(30 1023.2 1919.2)"/><ellipse cx="1011.5" cy="1926.6" rx="6.8" ry="2.2" transform="rotate(174 1011.5 1926.6)"/><ellipse cx="1020.2" cy="1934.3" rx="6.3" ry="3.1" transform="rotate(9 1020.2 1934.3)"/><ellipse cx="1022.0" cy="1935.9" rx="3.8" ry="2.9" transform="rotate(161 1022.0 1935.9)"/><ellipse cx="1021.7" cy="1933.0" rx="6.1" ry="1.9" transform="rotate(6 1021.7 1933.0)"/><ellipse cx="1029.0" cy="1911.5" rx="6.0" ry="4.6" transform="rotate(61 1029.0 1911.5)"/><ellipse cx="1035.1" cy="1917.8" rx="4.0" ry="4.0" transform="rotate(57 1035.1 1917.8)"/><ellipse cx="1034.1" cy="1919.0" rx="6.8" ry="1.9" transform="rotate(42 1034.1 1919.0)"/><ellipse cx="1013.2" cy="1922.4" rx="4.7" ry="3.3" transform="rotate(167 1013.2 1922.4)"/><ellipse cx="1032.2" cy="1923.4" rx="6.3" ry="4.2" transform="rotate(109 1032.2 1923.4)"/><path d="M1012.9,1928.1 A6.1,2.0 0 0 1 1007.6,1924.9"/><path d="M1006.6,1940.5 A4.3,4.8 0 0 1 1003.8,1932.4"/></g>
<path class="pn" stroke-width="1.8" d="M1000,1868 C1010,1862 1020,1862 1030,1866 M1055,1888 C1065,1892 1070,1892 1080,1890 M1010,1915 C1030,1902 1050,1898 1065,1898"/>
<path class="pt" stroke-width="3" d="M811,2108.7 L879,2150.8 C890,2145 900,2137 910,2134 C940,2125 965,2112 983.5,2102 L1000.7,2084.7 L1027.5,2060.8 L957.6,2020.5 C952,2025 947,2028 930,2029 C905,2031 880,2045 860,2058 C845,2068 840,2080 834,2090.5 Z"/>
<path d="M817.3,2112.4 l10.0,-6.0 M822.0,2115.3 l10.0,-6.0 M826.7,2118.1 l10.0,-6.0 M831.4,2121.0 l10.0,-6.0 M836.1,2123.8 l10.0,-6.0 M840.8,2126.7 l10.0,-6.0 M845.5,2129.5 l10.0,-6.0 M850.2,2132.3 l10.0,-6.0 M854.9,2135.2 l10.0,-6.0 M859.6,2138.0 l10.0,-6.0 M864.3,2140.9 l10.0,-6.0 M869.0,2143.7 l10.0,-6.0 M873.7,2146.6 l10.0,-6.0" stroke="#222" stroke-width="1.8"/>
<path d="M962.4,2025.4 l-10.0,7.0 M967.2,2028.2 l-10.0,7.0 M971.9,2030.9 l-10.0,7.0 M976.7,2033.7 l-10.0,7.0 M981.5,2036.5 l-10.0,7.0 M986.2,2039.2 l-10.0,7.0 M991.0,2042.0 l-10.0,7.0 M995.8,2044.8 l-10.0,7.0 M1000.5,2047.5 l-10.0,7.0 M1005.3,2050.3 l-10.0,7.0 M1010.1,2053.1 l-10.0,7.0 M1014.8,2055.8 l-10.0,7.0 M1019.6,2058.6 l-10.0,7.0" stroke="#222" stroke-width="1.8"/>
<g class="grv" clip-path="url(#clip4)" fill="none" stroke="#333" stroke-width="1.6" stroke-linejoin="round"><path d="M976.2,2094.4 A6.2,4.7 0 1 1 964.1,2092.5"/><polygon points="997.9,2077.3 995.3,2070.8 995.0,2064.6 999.5,2070.2"/><polygon points="937.8,2124.5 941.2,2119.7 946.5,2116.3 943.8,2123.3"/><path d="M910.3,2093.3 A6.9,4.5 0 1 1 921.9,2097.6"/><polygon points="987.4,2059.7 982.0,2060.2 978.8,2057.5 984.4,2056.2"/><polygon points="934.4,2096.7 929.5,2093.5 929.8,2085.1 933.8,2088.6"/><path d="M987.9,2090.9 A3.1,4.2 0 0 1 983.1,2094.1"/><polygon points="933.8,2124.9 926.3,2120.5 926.3,2113.9 935.2,2117.4"/><polygon points="992.6,2089.6 987.2,2092.6 986.5,2087.9 992.1,2084.5"/><polygon points="955.0,2080.6 949.8,2081.1 946.8,2078.9 951.0,2076.7"/><path d="M993.9,2063.8 A4.6,2.5 0 0 1 1002.6,2062.2"/><path d="M903.9,2115.3 A6.4,2.2 0 1 1 907.8,2119.2"/><polygon points="914.7,2113.4 909.5,2111.9 912.2,2106.7 917.0,2107.3"/><polygon points="959.0,2105.4 954.5,2100.8 957.1,2095.9 959.9,2100.2"/><path d="M945.3,2084.9 A3.4,2.6 0 1 1 950.8,2082.8"/><path d="M981.9,2086.6 A5.7,4.2 0 1 1 984.5,2078.5"/><path d="M986.6,2083.0 A4.2,4.7 0 1 1 978.4,2081.3"/><path d="M930.7,2115.6 A4.9,4.3 0 1 1 937.8,2110.1"/><path d="M987.6,2089.9 A4.4,4.4 0 1 1 981.2,2086.7"/><polygon points="950.8,2090.5 954.2,2085.9 958.2,2090.0 956.2,2094.3"/><path d="M976.7,2074.9 A5.7,3.1 0 1 1 980.7,2080.3"/><polygon points="949.2,2103.6 946.8,2099.1 951.2,2096.2 954.5,2100.8"/><polygon points="926.3,2090.4 924.3,2086.7 925.2,2083.0 928.1,2086.9"/><polygon points="930.0,2102.2 925.3,2101.6 927.6,2095.7 932.7,2096.9"/><path d="M967.9,2107.8 A6.3,3.1 0 0 1 971.9,2102.4"/><polygon points="959.0,2092.9 957.9,2087.0 963.4,2080.4 967.2,2089.0"/><polygon points="955.7,2072.1 948.9,2069.7 952.3,2062.0 956.9,2065.4"/><polygon points="954.1,2080.7 951.1,2074.7 951.7,2067.4 957.5,2072.9"/><path d="M924.8,2117.6 A4.8,2.7 0 1 1 915.5,2116.7"/><polygon points="945.5,2127.9 941.2,2124.3 939.1,2117.6 944.8,2120.6"/><polygon points="963.9,2090.1 966.7,2084.7 972.2,2081.6 969.8,2087.7"/><polygon points="950.8,2086.5 943.5,2089.3 939.2,2083.9 945.4,2082.4"/><path d="M943.0,2100.0 A5.8,3.8 0 0 1 951.0,2094.6"/><path d="M975.0,2052.0 A4.2,4.4 0 0 1 978.1,2060.1"/><polygon points="940.3,2121.5 937.6,2115.2 938.0,2108.4 942.0,2114.8"/><path d="M941.7,2119.3 A6.2,3.9 0 1 1 933.5,2116.2"/><path d="M956.8,2056.0 A6.4,2.5 0 0 1 963.8,2059.6"/><polygon points="944.9,2124.1 941.0,2122.4 942.4,2117.4 947.6,2119.3"/><polygon points="966.7,2102.7 963.5,2096.8 966.0,2089.8 967.8,2095.7"/><path d="M912.6,2123.3 A3.6,3.8 0 1 1 918.6,2127.2"/><polygon points="931.8,2110.1 927.2,2106.2 932.1,2102.1 935.4,2105.5"/><polygon points="979.3,2085.5 975.7,2088.2 973.3,2082.8 977.2,2080.7"/><polygon points="946.5,2114.7 942.6,2117.3 940.6,2113.4 943.4,2109.3"/><polygon points="975.8,2059.4 970.2,2057.7 967.7,2052.0 973.4,2052.9"/><polygon points="981.3,2079.7 985.7,2074.4 992.9,2075.3 988.5,2079.9"/><path d="M983.4,2065.2 A6.0,1.8 0 0 1 992.5,2067.6"/><polygon points="938.4,2077.9 935.9,2075.7 935.9,2071.3 939.7,2073.2"/><path d="M911.9,2102.8 A3.9,3.3 0 1 1 918.2,2101.6"/><path d="M973.1,2091.3 A4.9,4.7 0 1 1 977.8,2083.4"/><polygon points="967.1,2064.1 962.5,2062.8 961.1,2059.5 965.2,2060.2"/><polygon points="947.9,2085.7 940.2,2085.2 938.2,2078.9 944.9,2078.7"/><polygon points="932.0,2080.3 926.3,2076.1 932.6,2070.2 935.9,2075.4"/><polygon points="933.4,2079.1 927.4,2077.6 927.4,2073.8 932.8,2074.8"/><polygon points="946.5,2098.9 942.7,2099.6 940.9,2095.3 944.2,2094.3"/><path d="M907.3,2116.4 A4.9,3.6 0 1 1 904.0,2121.9"/><polygon points="938.9,2099.7 931.4,2101.1 927.3,2095.6 933.3,2096.6"/><polygon points="919.7,2090.2 915.0,2089.7 912.8,2083.9 918.9,2083.7"/><path d="M932.9,2078.0 A4.7,2.8 0 1 1 924.5,2080.1"/><path d="M977.6,2073.9 A4.8,4.3 0 1 1 976.1,2082.0"/><polygon points="943.4,2117.6 938.3,2119.4 934.4,2116.9 938.8,2115.1"/><polygon points="980.7,2079.0 977.0,2078.7 975.4,2075.7 978.7,2075.2"/><path d="M940.9,2086.3 A4.3,1.8 0 0 1 945.3,2089.0"/><path d="M950.1,2075.9 A5.8,3.2 0 0 1 940.4,2072.5"/><path d="M985.0,2063.5 A4.7,3.2 0 1 1 990.0,2067.2"/><path d="M956.2,2067.6 A6.3,3.1 0 1 1 944.6,2065.4"/><polygon points="963.7,2111.5 959.1,2109.6 958.5,2104.0 962.5,2106.0"/><path d="M925.6,2090.1 A6.9,4.4 0 0 1 932.4,2083.2"/><path d="M985.2,2068.9 A3.2,2.3 0 0 1 981.7,2072.5"/><path d="M970.8,2068.1 A5.7,4.5 0 0 1 973.0,2060.7"/><polygon points="957.9,2096.0 953.1,2094.9 953.4,2090.0 958.2,2091.8"/><path d="M949.8,2116.1 A6.3,4.7 0 1 1 958.8,2121.3"/><polygon points="946.3,2105.6 939.3,2104.5 938.4,2097.5 944.7,2100.4"/><polygon points="961.7,2073.5 964.8,2067.1 972.2,2065.1 968.3,2071.1"/><polygon points="982.6,2098.6 977.1,2097.2 975.3,2089.2 981.2,2091.1"/><path d="M928.6,2085.2 A5.6,4.6 0 0 1 932.8,2077.6"/><polygon points="965.9,2084.0 969.7,2078.7 976.7,2079.7 971.4,2084.3"/><path d="M927.6,2113.1 A6.1,2.5 0 1 1 918.6,2115.3"/><polygon points="966.7,2075.0 970.2,2069.7 975.7,2072.9 972.6,2076.1"/><path d="M959.3,2088.7 A3.7,2.4 0 1 1 959.6,2093.2"/><path d="M906.8,2111.1 A6.3,4.8 0 1 1 907.5,2119.0"/><polygon points="938.5,2115.2 931.9,2117.7 925.8,2113.8 933.4,2111.4"/><path d="M927.5,2122.4 A5.9,4.3 0 1 1 918.0,2121.4"/><polygon points="979.9,2103.7 976.1,2105.3 973.2,2102.2 977.2,2101.2"/><path d="M906.9,2112.1 A5.2,3.0 0 1 1 915.6,2109.3"/><path d="M962.4,2112.6 A6.8,2.0 0 0 1 960.7,2109.0"/><polygon points="948.2,2090.3 941.5,2086.0 944.9,2079.0 950.4,2083.3"/><polygon points="934.9,2094.7 927.6,2098.0 922.1,2095.3 928.5,2091.3"/><path d="M919.5,2114.5 A6.9,3.5 0 0 1 907.1,2111.4"/><polygon points="973.3,2071.4 970.6,2069.4 972.1,2065.4 975.5,2068.8"/><path d="M942.5,2092.0 A3.3,2.7 0 0 1 947.8,2089.9"/><path d="M946.5,2105.8 A4.7,3.6 0 0 1 954.3,2107.8"/><path d="M954.5,2106.9 A6.3,4.6 0 1 1 948.5,2113.6"/><polygon points="922.2,2123.2 926.2,2118.1 931.6,2122.7 927.6,2127.7"/><polygon points="960.4,2065.4 955.7,2066.6 953.5,2063.5 957.0,2060.5"/><polygon points="947.5,2069.7 950.1,2063.7 954.9,2066.9 951.4,2072.8"/><path d="M950.8,2111.4 A3.6,3.4 0 0 1 944.3,2110.5"/><path d="M962.2,2079.4 A4.5,3.3 0 1 1 962.9,2072.9"/><path d="M937.1,2105.9 A5.9,2.2 0 1 1 927.2,2104.2"/><polygon points="950.0,2094.4 944.1,2099.1 939.1,2094.5 944.1,2090.7"/><polygon points="933.3,2105.0 927.1,2100.3 931.0,2094.0 936.4,2099.1"/><path d="M917.7,2086.5 A6.7,2.0 0 0 1 931.0,2086.9"/><polygon points="990.8,2058.6 984.1,2060.3 981.0,2055.1 987.8,2052.4"/><path d="M927.1,2080.9 A6.9,2.6 0 0 1 931.0,2085.7"/><polygon points="988.6,2080.2 983.7,2079.1 983.8,2072.5 988.2,2073.2"/><polygon points="973.2,2079.7 974.6,2077.4 978.7,2077.3 977.4,2080.1"/><polygon points="970.7,2084.2 975.6,2079.5 980.7,2079.9 976.7,2084.3"/><path d="M956.0,2095.5 A6.6,4.0 0 0 1 954.1,2102.8"/><polygon points="965.4,2066.6 967.8,2063.2 971.5,2061.1 970.5,2065.6"/><polygon points="925.5,2084.6 923.3,2078.3 929.3,2076.1 930.0,2081.6"/><polygon points="969.4,2107.4 967.6,2103.9 970.5,2100.3 972.8,2103.7"/><polygon points="989.9,2091.9 986.4,2089.9 985.2,2085.0 989.4,2086.9"/><path d="M975.9,2068.2 A3.4,3.8 0 1 1 972.8,2063.3"/><polygon points="947.9,2107.9 942.7,2104.1 944.0,2096.9 947.4,2101.9"/><polygon points="918.9,2091.1 923.1,2083.5 930.6,2084.3 927.1,2091.0"/><path d="M948.9,2077.7 A3.4,3.4 0 0 1 953.8,2073.9"/><polygon points="961.3,2057.7 966.1,2055.3 971.6,2057.3 966.0,2059.3"/><path d="M941.7,2079.1 A5.1,4.6 0 0 1 933.9,2084.8"/><polygon points="978.3,2074.0 981.9,2071.2 985.3,2072.6 982.2,2075.1"/><path d="M941.3,2115.8 A4.0,3.3 0 0 1 934.7,2112.7"/><polygon points="979.9,2089.3 974.7,2093.3 973.5,2087.1 979.4,2084.8"/></g>
<g class="grv" clip-path="url(#clip4)" fill="none" stroke="#333" stroke-width="1.5" stroke-linejoin="round"><polygon points="853.9,2083.9 848.5,2084.2 848.3,2080.5 853.7,2080.4"/><path d="M860.8,2073.6 A4.9,3.0 0 0 1 861.3,2067.8"/><path d="M864.7,2061.4 A5.9,2.1 0 0 1 871.2,2064.1"/><path d="M897.9,2028.7 A5.6,3.4 0 0 1 904.2,2034.2"/><polygon points="883.9,2049.7 885.4,2044.7 892.6,2044.4 889.5,2049.6"/><path d="M874.4,2059.9 A3.4,2.3 0 1 1 876.7,2056.2"/><polygon points="883.9,2053.7 879.2,2051.1 878.4,2045.5 882.9,2048.1"/><path d="M860.4,2062.0 A5.2,2.7 0 1 1 870.3,2061.7"/><polygon points="844.2,2083.9 839.1,2084.2 833.5,2081.2 839.3,2079.9"/><path d="M889.3,2040.9 A4.6,1.9 0 1 1 891.9,2044.0"/><path d="M887.9,2056.2 A5.6,3.3 0 0 1 878.1,2058.5"/><polygon points="843.5,2082.8 839.6,2085.5 837.0,2082.4 841.3,2080.4"/><polygon points="857.5,2066.9 857.1,2059.7 863.5,2056.8 864.2,2063.0"/><path d="M875.5,2063.4 A5.1,3.9 0 1 1 867.2,2065.0"/><path d="M886.6,2043.1 A5.0,3.4 0 0 1 893.8,2039.0"/><polygon points="860.7,2070.2 855.4,2069.7 852.5,2064.8 859.5,2063.7"/><polygon points="862.2,2063.9 858.1,2064.8 855.0,2061.2 859.6,2061.7"/><polygon points="898.7,2039.5 892.0,2040.0 888.3,2034.9 893.9,2036.5"/><polygon points="891.9,2047.5 889.1,2041.5 894.1,2036.3 895.6,2041.6"/><path d="M858.8,2074.5 A3.2,3.1 0 0 1 864.6,2075.3"/><polygon points="883.5,2047.6 883.7,2043.1 889.9,2042.9 889.9,2047.7"/><polygon points="886.5,2062.5 884.6,2057.9 886.1,2052.7 888.4,2057.6"/><polygon points="847.6,2089.1 844.0,2089.7 840.7,2087.1 844.9,2084.8"/><path d="M855.4,2067.7 A5.0,2.9 0 1 1 862.2,2063.7"/><polygon points="874.5,2070.7 871.2,2069.3 870.8,2065.6 874.9,2066.4"/><polygon points="895.3,2045.1 893.3,2040.5 898.0,2036.8 899.5,2042.8"/><polygon points="860.8,2072.4 856.2,2072.5 852.5,2067.9 859.1,2066.9"/><polygon points="848.4,2085.6 844.6,2089.3 840.8,2085.1 845.0,2082.6"/><polygon points="904.7,2046.4 898.1,2047.4 895.7,2042.7 903.0,2041.6"/><path d="M872.2,2071.3 A5.8,4.1 0 0 1 862.5,2074.4"/><polygon points="894.7,2052.0 890.5,2051.0 887.7,2047.1 893.1,2046.8"/><path d="M866.6,2063.1 A4.4,2.5 0 0 1 872.9,2066.3"/><polygon points="869.7,2064.4 870.6,2057.9 875.7,2057.6 874.6,2064.7"/><polygon points="844.1,2087.9 839.7,2089.2 836.8,2086.4 841.0,2083.2"/><path d="M858.9,2066.4 A3.2,2.1 0 1 1 853.2,2066.5"/><polygon points="892.0,2041.4 888.2,2042.7 885.2,2040.6 888.9,2037.8"/><path d="M896.3,2047.0 A5.2,3.6 0 1 1 904.8,2043.1"/><polygon points="856.6,2076.2 853.6,2074.7 853.1,2070.5 856.6,2072.1"/><path d="M877.4,2049.7 A4.2,2.6 0 0 1 876.9,2054.7"/><polygon points="876.7,2053.6 872.9,2053.2 872.2,2049.7 876.6,2049.7"/></g>
<g class="grv" clip-path="url(#clip4)" fill="none" stroke="#333" stroke-width="1.5" stroke-linejoin="round"><path d="M833.1,2098.6 A4.3,3.0 0 1 1 836.8,2103.7"/><polygon points="846.3,2101.8 842.2,2100.2 843.6,2097.1 847.8,2098.1"/><path d="M846.7,2101.0 A3.3,2.1 0 0 1 852.0,2102.9"/><polygon points="841.7,2100.5 844.0,2098.2 847.2,2098.4 845.2,2101.4"/><path d="M833.8,2093.8 A4.8,1.7 0 0 1 841.7,2094.5"/><polygon points="842.2,2094.8 837.6,2093.4 836.0,2087.7 840.9,2090.0"/><polygon points="843.9,2103.3 842.3,2097.6 846.5,2094.8 848.5,2100.7"/><path d="M841.5,2098.7 A4.0,2.8 0 1 1 841.1,2104.1"/><polygon points="836.1,2104.3 837.9,2100.2 842.2,2099.0 839.9,2102.8"/><polygon points="841.6,2110.8 845.8,2108.6 848.6,2110.2 844.8,2113.8"/><polygon points="853.8,2101.5 848.2,2101.9 846.6,2096.2 851.9,2096.6"/><path d="M839.3,2109.8 A4.9,3.0 0 1 1 847.7,2112.4"/><polygon points="849.3,2113.2 846.1,2108.9 848.3,2104.9 852.9,2109.8"/><polygon points="838.8,2098.9 841.2,2096.1 843.7,2097.0 841.5,2099.9"/><polygon points="851.0,2111.7 846.6,2111.7 844.7,2107.8 849.2,2108.2"/><polygon points="842.4,2093.7 839.5,2091.1 841.3,2087.4 845.0,2090.8"/><polygon points="831.4,2096.7 834.1,2094.2 840.1,2095.5 836.8,2098.5"/><path d="M854.3,2106.2 A2.5,2.1 0 0 1 851.6,2109.4"/></g>
<path d="M882,2138 C895,2118 910,2104 925,2096 C945,2085 965,2070 975,2060" fill="none" stroke="#222" stroke-width="2.4"/>
</g>

<!-- PART H: box 11 -->
<g id="partH">
<path class="dd" d="M1411,117 L1248,218 L1320,258"/>
<path class="dd" d="M1352,306 L1378,292"/>
<path class="dd" d="M1337,342 V408"/>
<path class="dd" d="M1400,307 V395"/>
<path class="dd" d="M1491,579 L1348,663"/>
<path class="dd" d="M1337,731 V790"/>
<use href="#cup" transform="translate(1425,108)"/>
<use href="#clip" transform="translate(1289.7,153.5)"/>
<use href="#elbow" transform="translate(1322.6,276)"/>
<use href="#nut" transform="translate(1400,408)"/>
<path class="pt" stroke-width="2.4" d="M1326,414 V724 C1326,733 1348,733 1348,724 V414 Z"/>
<ellipse cx="1337" cy="414" rx="11" ry="5.5" fill="#fff" stroke="#111" stroke-width="2.6"/>
<path d="M1330.5,420 V726" stroke="#888" stroke-width="1.8"/>
<use href="#cup" transform="translate(1504,568)"/>
<use href="#clip" transform="translate(1386.6,603.8)"/>
<!-- bellows -->
<path class="pt" stroke-width="2.8" d="M1330,792 C1330,786 1347,786 1347,792 V800 L1356,806 V872 C1356,892 1319,892 1319,872 V806 L1330,800 Z"/>
<path d="M1321,808 C1328,813 1346,813 1353,808" fill="none" stroke="#333" stroke-width="2.2"/><path d="M1321,814 C1328,819 1346,819 1353,814" fill="none" stroke="#333" stroke-width="2.2"/><path d="M1321,820 C1328,825 1346,825 1353,820" fill="none" stroke="#333" stroke-width="2.2"/><path d="M1321,826 C1328,831 1346,831 1353,826" fill="none" stroke="#333" stroke-width="2.2"/><path d="M1321,832 C1328,837 1346,837 1353,832" fill="none" stroke="#333" stroke-width="2.2"/><path d="M1321,838 C1328,843 1346,843 1353,838" fill="none" stroke="#333" stroke-width="2.2"/><path d="M1321,844 C1328,849 1346,849 1353,844" fill="none" stroke="#333" stroke-width="2.2"/><path d="M1321,850 C1328,855 1346,855 1353,850" fill="none" stroke="#333" stroke-width="2.2"/><path d="M1321,856 C1328,861 1346,861 1353,856" fill="none" stroke="#333" stroke-width="2.2"/><path d="M1321,862 C1328,867 1346,867 1353,862" fill="none" stroke="#333" stroke-width="2.2"/><path d="M1321,868 C1328,873 1346,873 1353,868" fill="none" stroke="#333" stroke-width="2.2"/><path d="M1321,874 C1328,879 1346,879 1353,874" fill="none" stroke="#333" stroke-width="2.2"/>
<ellipse cx="1338.5" cy="791" rx="8.5" ry="4" fill="#fff" stroke="#111" stroke-width="2.2"/>
</g>

<!-- PART I: hose 12 -->
<g id="partI" fill="none" stroke-linecap="butt">
<path d="M1802.6,77.2 C1819.3,82.3 1874.3,96.5 1902.6,107.6 C1930.9,118.6 1954.8,129.6 1972.2,143.5 C1989.6,157.4 2001.6,174.3 2007.0,191.3 C2012.4,208.3 2011.3,229.0 2004.8,245.7 C1998.3,262.4 1984.8,277.2 1967.8,291.3 C1950.8,305.4 1926.1,321.3 1902.6,330.4 C1879.0,339.5 1851.1,345.3 1826.5,345.7 C1801.9,346.1 1774.4,342.8 1754.8,332.6 C1735.2,322.5 1716.2,302.9 1709.0,284.8 C1701.8,266.7 1702.6,241.8 1711.3,224.0 C1720.0,206.2 1736.7,188.6 1761.3,178.3 C1785.9,168.0 1828.2,162.0 1859.0,162.0 C1889.8,162.0 1925.0,168.7 1946.0,178.3 C1967.0,187.9 1979.4,205.5 1985.2,219.6 C1991.0,233.7 1986.7,249.6 1980.9,263.0 C1975.1,276.4 1967.1,287.3 1950.4,300.0 C1933.7,312.7 1907.0,325.6 1880.9,339.0 C1854.8,352.4 1834.6,363.0 1794.0,380.4 C1753.4,397.8 1663.5,433.0 1637.4,443.5" stroke="#1a1a1a" stroke-width="22"/>
<path d="M1802.6,77.2 C1819.3,82.3 1874.3,96.5 1902.6,107.6 C1930.9,118.6 1954.8,129.6 1972.2,143.5 C1989.6,157.4 2001.6,174.3 2007.0,191.3 C2012.4,208.3 2011.3,229.0 2004.8,245.7 C1998.3,262.4 1984.8,277.2 1967.8,291.3 C1950.8,305.4 1926.1,321.3 1902.6,330.4 C1879.0,339.5 1851.1,345.3 1826.5,345.7 C1801.9,346.1 1774.4,342.8 1754.8,332.6 C1735.2,322.5 1716.2,302.9 1709.0,284.8 C1701.8,266.7 1702.6,241.8 1711.3,224.0 C1720.0,206.2 1736.7,188.6 1761.3,178.3 C1785.9,168.0 1828.2,162.0 1859.0,162.0 C1889.8,162.0 1925.0,168.7 1946.0,178.3 C1967.0,187.9 1979.4,205.5 1985.2,219.6 C1991.0,233.7 1986.7,249.6 1980.9,263.0 C1975.1,276.4 1967.1,287.3 1950.4,300.0 C1933.7,312.7 1907.0,325.6 1880.9,339.0 C1854.8,352.4 1834.6,363.0 1794.0,380.4 C1753.4,397.8 1663.5,433.0 1637.4,443.5" stroke="#fff" stroke-width="17"/>
<path d="M1802.6,77.2 C1819.3,82.3 1874.3,96.5 1902.6,107.6 C1930.9,118.6 1954.8,129.6 1972.2,143.5 C1989.6,157.4 2001.6,174.3 2007.0,191.3 C2012.4,208.3 2011.3,229.0 2004.8,245.7 C1998.3,262.4 1984.8,277.2 1967.8,291.3 C1950.8,305.4 1926.1,321.3 1902.6,330.4 C1879.0,339.5 1851.1,345.3 1826.5,345.7 C1801.9,346.1 1774.4,342.8 1754.8,332.6 C1735.2,322.5 1716.2,302.9 1709.0,284.8 C1701.8,266.7 1702.6,241.8 1711.3,224.0 C1720.0,206.2 1736.7,188.6 1761.3,178.3 C1785.9,168.0 1828.2,162.0 1859.0,162.0 C1889.8,162.0 1925.0,168.7 1946.0,178.3 C1967.0,187.9 1979.4,205.5 1985.2,219.6 C1991.0,233.7 1986.7,249.6 1980.9,263.0 C1975.1,276.4 1967.1,287.3 1950.4,300.0 C1933.7,312.7 1907.0,325.6 1880.9,339.0 C1854.8,352.4 1834.6,363.0 1794.0,380.4 C1753.4,397.8 1663.5,433.0 1637.4,443.5" stroke="#999" stroke-width="1.4" stroke-dasharray="30 12" transform="translate(-2,-4)"/>
<ellipse cx="1802" cy="77" rx="5" ry="10" transform="rotate(18 1802 77)" fill="#fff" stroke="#1a1a1a" stroke-width="2.5"/>
<ellipse cx="1637" cy="443.5" rx="6" ry="10" transform="rotate(22 1637 443.5)" fill="#fff" stroke="#1a1a1a" stroke-width="2.5"/>
</g>

<!-- PART J: box 13 -->
<g id="partJ">
<path class="dd" d="M1597,636 L1623,652"/>
<path class="dd" d="M1660,660 L1693,640"/>
<path class="dd" d="M1740,612 L1769,594"/>
<path class="dd" d="M1796,728 L1822,713"/>
<path class="dd" d="M1868,692 L1898,671"/>
<path class="dd" d="M1912,817 L1972,854"/>
<path class="dd" d="M1836,852 L1894,882 L1957,847"/>
<path class="dd" d="M1962,575 L1927,598 L1979,630"/>
<path class="dd" d="M2014,552 L2063,513"/>
<path class="dd" d="M2069,680 V728"/>
<path class="dd" d="M2006,718 V842"/>
<!-- end cap -->
<g>
<path d="M1581,622 C1590,615 1598,620 1600,628 L1600,638 C1598,645 1585,646 1579,638 C1575,632 1576,626 1581,622 Z" fill="#fff" stroke="#111" stroke-width="2.8"/>
<ellipse cx="1594" cy="634" rx="5" ry="7" fill="#fff" stroke="#222" stroke-width="2"/>
</g>
<!-- spray bar -->
<path d="M1632,651 L1908,808 C1916,813 1914,824 1903,823 L1627,667 C1618,662 1622,648 1632,651 Z" fill="#fff" stroke="#111" stroke-width="2.8" stroke-linejoin="round"/>
<path d="M1637,656 L1906,809" stroke="#666" stroke-width="1.5"/>
<ellipse cx="1906" cy="815" rx="5" ry="8.5" transform="rotate(28 1906 815)" fill="#fff" stroke="#111" stroke-width="2.2"/>
<path d="M1638,668 l1,-4 M1665,684 l1,-4 M1692,699 l1,-4 M1719,715 l1,-4 M1746,730 l1,-4 M1773,745 l1,-4 M1800,761 l1,-4 M1827,776 l1,-4 M1854,791 l1,-4 M1881,807 l1,-4" stroke="#222" stroke-width="2"/>
<use href="#cup" transform="translate(1783,592)"/>
<use href="#clip" transform="translate(1693,609) scale(0.9)"/>
<use href="#cup" transform="translate(1908,663)"/>
<use href="#clip" transform="translate(1821,686) scale(0.9)"/>
<use href="#cup" transform="translate(2078,507)"/>
<use href="#clip" transform="translate(1960,541) scale(1.0)"/>
<use href="#elbow" transform="translate(1992.8,648.5)"/>
<use href="#nut" transform="translate(2070,740)"/>
<!-- half clip C -->
<path d="M1795,842 C1795,825 1815,820 1830,825 L1840,830 C1845,833 1845,848 1838,853 L1800,848 C1796,847 1795,845 1795,842 Z" fill="#fff" stroke="#111" stroke-width="2.6"/>
<path d="M1822,825 C1820,835 1822,845 1826,851 M1828,826 C1826,836 1828,846 1832,852" fill="none" stroke="#333" stroke-width="1.8"/>
<!-- elbow joint -->
<path d="M1996,847 V873 C1996,882 2020,882 2020,873 V847 Z" fill="#fff" stroke="#111" stroke-width="2.6"/>
<ellipse cx="2008" cy="847" rx="12" ry="5.5" fill="#fff" stroke="#111" stroke-width="2.4"/>
<path d="M1978,853 C1985,846 1998,850 2000,860 L2000,875 C1996,880 1985,877 1976,870 C1970,865 1973,857 1978,853 Z" fill="#fff" stroke="#111" stroke-width="2.6"/>
</g>

<!-- PART K: box 3 -->
<g id="partK">
<path class="dd" d="M1401,1127 V1550"/>
<path class="dd" d="M1316,1178 V1335"/>
<path class="dd" d="M1328,1178 L1473,1262 V1380"/>
<path class="dd" d="M1316,1520 V1580"/>
<path class="dd" d="M1352,1485 V1620"/>
<path class="dd" d="M1401,1520 V1650"/>
<path class="dd" d="M1447,1500 V1710"/>
<path class="dd" d="M1473,1496 V1680"/>
<path class="dd" d="M1371,1915 V2035"/>
<path class="dd" d="M1273.5,2086 V2190"/>
<path class="dd" d="M1345,2130 V2150"/>
<path class="dd" d="M1415.3,2150 V2272"/>
<path class="dd" d="M1486.7,2144 V2233"/>
<circle cx="1400.7" cy="1112" r="14" fill="#fff" stroke="#333" stroke-width="2"/>
<text x="1400.7" y="1120" text-anchor="middle" font-family="Liberation Sans, sans-serif" font-size="26" fill="#333">a</text>
<g transform="translate(1286.4,1349)"><path d="M0,0 L2.4,-18 L7.2,-33.3 L19.1,-40.4 L20.3,-15.4 L65.6,-41.6 L66.6,-69 L76.2,-74.2 L82.2,-65.4 L85.6,-47.6 L82.2,121.5 L4.6,165.5 Z" fill="#fff" stroke="#111" stroke-width="3.2" stroke-linejoin="round"/>
<path d="M3.5,2 L7.5,160 M81.5,-40 L78.5,118" stroke="#111" stroke-width="2.4"/>
<ellipse cx="44.1" cy="-1.1" rx="12" ry="24" fill="#555"/>
<path d="M34,-20 L52,15 M33,-10 L48,20 M36,-26 L55,8 M40,-28 L56,0" stroke="#ccc" stroke-width="1.2"/></g>
<g transform="translate(1380.4,1365.7)"><path d="M0,0 L2.4,-18 L7.2,-33.3 L19.1,-40.4 L20.3,-15.4 L65.6,-41.6 L66.6,-69 L76.2,-74.2 L82.2,-65.4 L85.6,-47.6 L82.2,121.5 L4.6,165.5 Z" fill="#fff" stroke="#111" stroke-width="3.2" stroke-linejoin="round"/>
<path d="M3.5,2 L7.5,160 M81.5,-40 L78.5,118" stroke="#111" stroke-width="2.4"/>
<ellipse cx="44.1" cy="-1.1" rx="12" ry="24" fill="#555"/>
<path d="M34,-20 L52,15 M33,-10 L48,20 M36,-26 L55,8 M40,-28 L56,0" stroke="#ccc" stroke-width="1.2"/></g>
<!-- basket -->
<g>
<path d="M1250,1640 L1259,1816 C1262,1840 1280,1852 1302,1860 L1375,1899 C1395,1910 1410,1914 1430,1914 C1460,1913 1485,1900 1495,1872 L1501,1719 C1508,1705 1512,1690 1510,1665 C1505,1640 1490,1630 1478,1625 L1375,1574 C1350,1562 1330,1560 1319,1560 C1290,1562 1265,1574 1250,1595 C1240,1612 1242,1630 1250,1640 Z" fill="#fff" stroke="#111" stroke-width="3"/>
<path d="M1255,1615 C1265,1590 1290,1580 1319,1580 C1340,1580 1375,1595 1395,1600 L1488,1648 C1500,1655 1505,1670 1500,1685 C1495,1700 1470,1712 1416,1712 C1390,1712 1370,1706 1354,1700 L1260,1650 C1255,1640 1252,1625 1255,1615 Z" fill="#fff" stroke="#111" stroke-width="2.6"/>
<path d="M1251,1645 L1354,1702 C1375,1712 1395,1720 1416,1722 C1460,1725 1490,1715 1500,1700" fill="none" stroke="#111" stroke-width="2.6"/>
<path d="M1261,1630 L1268,1603 L1275,1600 L1270,1620 L1285,1617 L1285,1592" fill="none" stroke="#222" stroke-width="2"/>
<path d="M1384,1605 V1700 M1390,1605 V1702 M1452,1640 V1712 M1456,1642 V1712" stroke="#222" stroke-width="2"/>
<path d="M1298,1660 L1330,1672 L1338,1676 L1337,1700 M1300,1660 V1690" fill="none" stroke="#111" stroke-width="2.5"/>
<path d="M1310,1697 V1730 C1312,1740 1340,1750 1350,1745 V1705" fill="none" stroke="#222" stroke-width="2"/>
<path d="M1318,1715 l14,6" stroke="#222" stroke-width="3"/>
<path d="M1302,1700 V1858 M1358,1710 L1364,1890" stroke="#222" stroke-width="2"/>
<path d="M1257,1719 C1270,1760 1280,1810 1286,1851" fill="none" stroke="#222" stroke-width="2"/>
<path d="M1497,1752 C1430,1790 1380,1830 1375,1893" fill="none" stroke="#222" stroke-width="2"/>
<path d="M1470,1725 V1740 C1472,1745 1485,1742 1490,1738 V1720" fill="none" stroke="#222" stroke-width="2"/>
<path d="M1418,1590 L1430,1585 L1460,1602 L1460,1612" fill="none" stroke="#222" stroke-width="2"/>
</g>
<g id="basketdash">
<path class="dd" d="M1316,1580 V1609"/>
<path class="dd" d="M1355,1600 V1690"/>
<path class="dd" d="M1401,1590 V1650"/>
<path class="dd" d="M1445,1620 V1706"/>
<path class="dd" d="M1472,1625 V1685"/>
</g>
<!-- base -->
<g>
<path d="M1247,2032 C1246,2015 1252,2005 1261,1999 C1280,1985 1300,1972 1330,1966 L1391,1958 C1410,1958 1425,1962 1437,1968 C1470,1985 1490,2005 1499,2028 C1508,2050 1515,2070 1516,2086 C1517,2100 1514,2110 1509,2117 C1490,2140 1460,2145 1427,2144 C1395,2143 1370,2135 1344,2128 C1315,2118 1290,2105 1270,2085 C1255,2070 1248,2050 1247,2032 Z" fill="#fff" stroke="#111" stroke-width="3"/>
<path d="M1254,2020 C1260,2040 1275,2040 1300,2045 C1330,2052 1360,2075 1380,2095 C1400,2115 1440,2127 1470,2122 C1500,2115 1512,2100 1510,2086" fill="none" stroke="#111" stroke-width="2.4"/>
<path d="M1267,2016 C1280,2012 1300,2010 1313,2012 C1340,2020 1360,2040 1378,2065 C1395,2090 1420,2106 1450,2106 C1480,2105 1500,2090 1503,2072 C1500,2050 1490,2030 1478,2016 C1460,1995 1440,1985 1420,1975 C1400,1968 1380,1968 1370,1968 C1340,1970 1310,1975 1290,1985 C1275,1995 1268,2005 1267,2016 Z" fill="none" stroke="#111" stroke-width="2.6"/>
<path d="M1396,1962 L1460,1985 V2043 L1396,2015 Z" fill="#777" stroke="#111" stroke-width="2"/>
<path d="M1402,1966 V2017 M1410,1969 V2021 M1418,1972 V2025 M1426,1975 V2029 M1434,1978 V2033 M1442,1981 V2037 M1450,1984 V2040" stroke="#ddd" stroke-width="1.5"/>
<path d="M1260,1995 v12 M1268,1989 v12 M1276,1984 v12 M1284,1980 v12 M1292,1977 v12 M1300,1974 v12 M1308,1972 v12" stroke="#222" stroke-width="4"/>
<path d="M1365,2041 L1390,2031 L1427,2057 L1395,2078 Z" fill="none" stroke="#111" stroke-width="2.4"/>
<ellipse cx="1333.5" cy="2001.4" rx="9" ry="5" fill="#fff" stroke="#222" stroke-width="2.5"/>
<ellipse cx="1476.4" cy="2083.2" rx="9" ry="5" fill="#fff" stroke="#222" stroke-width="2.5"/>
</g>
<path d="M1266.5,2192 V2202 C1266.5,2208 1280.5,2208 1280.5,2202 V2192 Z" fill="#fff" stroke="#111" stroke-width="2.6"/><ellipse cx="1273.5" cy="2192" rx="6" ry="3.5" fill="#fff" stroke="#111" stroke-width="2.2"/><path d="M1267.5,2198 C1270.5,2201 1276.5,2201 1279.5,2198" fill="none" stroke="#333" stroke-width="1.5"/><path d="M1338,2151.8 V2161.8 C1338,2167.8 1352,2167.8 1352,2161.8 V2151.8 Z" fill="#fff" stroke="#111" stroke-width="2.6"/><ellipse cx="1345" cy="2151.8" rx="6" ry="3.5" fill="#fff" stroke="#111" stroke-width="2.2"/><path d="M1339,2157.8 C1342,2160.8 1348,2160.8 1351,2157.8" fill="none" stroke="#333" stroke-width="1.5"/><path d="M1408.3,2274 V2284 C1408.3,2290 1422.3,2290 1422.3,2284 V2274 Z" fill="#fff" stroke="#111" stroke-width="2.6"/><ellipse cx="1415.3" cy="2274" rx="6" ry="3.5" fill="#fff" stroke="#111" stroke-width="2.2"/><path d="M1409.3,2280 C1412.3,2283 1418.3,2283 1421.3,2280" fill="none" stroke="#333" stroke-width="1.5"/><path d="M1479.7,2235.6 V2245.6 C1479.7,2251.6 1493.7,2251.6 1493.7,2245.6 V2235.6 Z" fill="#fff" stroke="#111" stroke-width="2.6"/><ellipse cx="1486.7" cy="2235.6" rx="6" ry="3.5" fill="#fff" stroke="#111" stroke-width="2.2"/><path d="M1480.7,2241.6 C1483.7,2244.6 1489.7,2244.6 1492.7,2241.6" fill="none" stroke="#333" stroke-width="1.5"/>
</g>
<!--PARTS-->
<!-- LEADERS -->
<g id="leaders">
<line class="ld" x1="342" y1="455" x2="410" y2="455"/>
<line class="ld" x1="343" y1="777.5" x2="410" y2="777.5"/>
<line class="ld" x1="343" y1="899" x2="439" y2="899"/>
<line class="ld" x1="338" y1="1083" x2="575" y2="1083"/>
<line class="ld" x1="341" y1="1306.5" x2="505" y2="1306.5"/>
<line class="ld" x1="681" y1="1926" x2="723" y2="1926"/>
<line class="ld" x1="939" y1="476" x2="1060" y2="476"/>
<line class="ld" x1="982" y1="1080" x2="1060" y2="1080"/>
<line class="ld" x1="1527" y1="1910" x2="1618" y2="1910"/>
<line class="ld" x1="1533" y1="274" x2="1574" y2="274"/>
<line class="ld" x1="1935" y1="308.7" x2="2003" y2="308.7"/>
<line class="ld" x1="2108" y1="690" x2="2148" y2="690"/>
<line class="ld" x1="1022" y1="1919.6" x2="1125" y2="1919.6"/>
<line class="ld" x1="970" y1="2092.4" x2="1125" y2="2092.4"/>
</g>
<!-- LABELS -->
<g id="labels" fill="none" stroke="#222" stroke-width="2.6" stroke-linecap="round" stroke-linejoin="round"><path transform="translate(318.7,441.8)" d="M1.7,18.9 C2.5,21.9 4.5,23.9 7.2,23.9 C11.7,23.9 14,19.6 14,11.9 C14,4.4 11.5,0.5 7.3,0.5 C3.5,0.5 1,3.4 1,8.1 C1,12.4 3.5,15.2 7.2,15.2 C10.5,15.2 13,13.2 13.8,10.4"/><path transform="translate(303.1,764.8)" d="M3.2,6.8 C6,5.2 8,3.2 9.6,0.6 V23.9"/><path transform="translate(321.9,764.8)" d="M7.5,0.5 C3,0.5 1,5 1,12.2 C1,19.4 3,23.9 7.5,23.9 C12,23.9 14,19.4 14,12.2 C14,5 12,0.5 7.5,0.5 Z"/><path transform="translate(321.2,885.4)" d="M1.7,18.9 C2.5,21.9 4.5,23.9 7.2,23.9 C11.7,23.9 14,19.6 14,11.9 C14,4.4 11.5,0.5 7.3,0.5 C3.5,0.5 1,3.4 1,8.1 C1,12.4 3.5,15.2 7.2,15.2 C10.5,15.2 13,13.2 13.8,10.4"/><path transform="translate(317.0,1071.2)" d="M7.5,11.3 C4,11.3 1.7,9.2 1.7,6 C1.7,2.7 4,0.5 7.5,0.5 C11,0.5 13.3,2.7 13.3,6 C13.3,9.2 11,11.3 7.5,11.3 C3.5,11.3 1,13.8 1,17.5 C1,21.3 3.8,23.9 7.5,23.9 C11.2,23.9 14,21.3 14,17.5 C14,13.8 11.5,11.3 7.5,11.3 Z"/><path transform="translate(320.0,1294.2)" d="M1,0.8 H14 C9.5,7 6.5,15 5.8,23.9"/><path transform="translate(733.3,1912.8)" d="M13.3,5.5 C12.5,2.5 10.5,0.5 7.8,0.5 C3.3,0.5 1,4.8 1,12.5 C1,20 3.5,23.9 7.7,23.9 C11.5,23.9 14,21 14,16.3 C14,12 11.5,9.2 7.8,9.2 C4.5,9.2 2,11.2 1.2,14"/><path transform="translate(1069.0,462.6)" d="M3.2,6.8 C6,5.2 8,3.2 9.6,0.6 V23.9"/><path transform="translate(1068.9,1068.8)" d="M1.5,6.5 C2,2.5 4.5,0.5 7.5,0.5 C11,0.5 13.5,3 13.5,6.5 C13.5,10 11.5,12.5 8,15.5 C5,18 2,21 1.2,23.9 H14"/><path transform="translate(1133.0,1906.8)" d="M13,0.8 H3.5 L2,11.5 C3.5,10 5.5,9.2 7.7,9.2 C11.5,9.2 14,12 14,16.3 C14,20.8 11.3,23.9 7.5,23.9 C4.3,23.9 1.8,22 1,19"/><path transform="translate(1132.5,2081.6)" d="M11,23.9 V0.5 L0.8,16.5 H14.5"/><path transform="translate(1625.0,1896.5)" d="M1.5,5.5 C2.5,2 4.5,0.5 7.5,0.5 C11,0.5 13,2.5 13,6 C13,9.5 10.5,11.3 6.5,11.3 C11,11.3 14,13.5 14,17.5 C14,21.5 11,23.9 7.5,23.9 C4,23.9 1.5,22 1,18.5"/><path transform="translate(1582.8,263.3)" d="M3.2,6.8 C6,5.2 8,3.2 9.6,0.6 V23.9"/><path transform="translate(1601.8,263.3)" d="M3.2,6.8 C6,5.2 8,3.2 9.6,0.6 V23.9"/><path transform="translate(2011.8,300.8)" d="M3.2,6.8 C6,5.2 8,3.2 9.6,0.6 V23.9"/><path transform="translate(2030.7,300.8)" d="M1.5,6.5 C2,2.5 4.5,0.5 7.5,0.5 C11,0.5 13.5,3 13.5,6.5 C13.5,10 11.5,12.5 8,15.5 C5,18 2,21 1.2,23.9 H14"/><path transform="translate(2161.1,681.8)" d="M3.2,6.8 C6,5.2 8,3.2 9.6,0.6 V23.9"/><path transform="translate(2180.0,681.8)" d="M1.5,5.5 C2.5,2 4.5,0.5 7.5,0.5 C11,0.5 13,2.5 13,6 C13,9.5 10.5,11.3 6.5,11.3 C11,11.3 14,13.5 14,17.5 C14,21.5 11,23.9 7.5,23.9 C4,23.9 1.5,22 1,18.5"/><path transform="translate(942,2132.6)" d="M11,23.9 V0.5 L0.8,16.5 H14.5"/><path transform="translate(961,2132.6)" d="M1.5,6.5 C2,2.5 4.5,0.5 7.5,0.5 C11,0.5 13.5,3 13.5,6.5 C13.5,10 11.5,12.5 8,15.5 C5,18 2,21 1.2,23.9 H14"/><path transform="translate(980,2132.6)" d="M7.5,0.5 C3,0.5 1,5 1,12.2 C1,19.4 3,23.9 7.5,23.9 C12,23.9 14,19.4 14,12.2 C14,5 12,0.5 7.5,0.5 Z"/><path transform="translate(1013,2132.6)" d="M13,6.5 V24 C13,28 10.5,30.5 7,30.5 C4,30.5 2,29 1.5,26.5 M13,9.5 C12,7.5 10,6.5 7.2,6.5 C3.5,6.5 1,9.5 1,14 C1,18.5 3.5,21.5 7.2,21.5 C10,21.5 12,20.5 13,18.5"/></g>
</svg>
</body></html>
